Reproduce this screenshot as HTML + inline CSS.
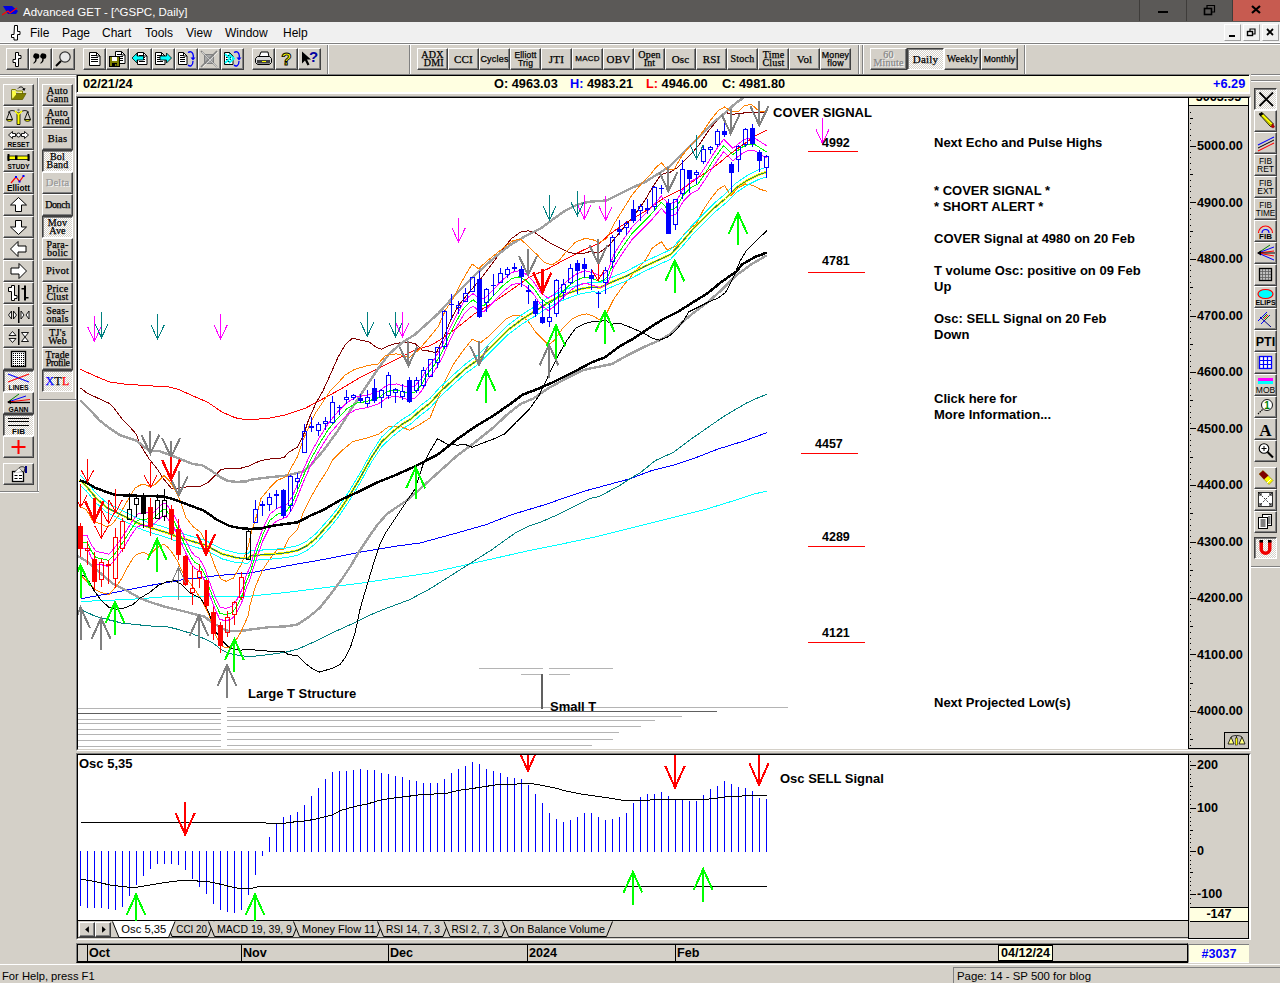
<!DOCTYPE html><html><head><meta charset="utf-8"><title>Advanced GET</title><style>
*{box-sizing:border-box;margin:0;padding:0}
html,body{width:1280px;height:983px;overflow:hidden;background:#d4d0c8;font-family:"Liberation Sans",sans-serif;}
.abs{position:absolute}
#title{position:absolute;left:0;top:0;width:1280px;height:22px;background:#5b5957;color:#fff;font-size:11.5px;line-height:22px;}
#title .t{position:absolute;left:23px;top:1px;letter-spacing:0px}
.wb{position:absolute;top:0;height:21px;width:46px;border-left:1px solid #3e3c3a;}
#menu{position:absolute;left:0;top:22px;width:1280px;height:21px;background:#f0f0f0;font-size:12px;line-height:22px;color:#000;border-bottom:1px solid #fff}
#menu span{position:absolute;top:0}
.mdib{position:absolute;top:24px;width:17px;height:17px;background:#f0f0f0;border:1px solid #fff;border-right-color:#a0a0a0;border-bottom-color:#a0a0a0}
.btn{position:absolute;background:#d4d0c8;border-top:1px solid #fff;border-left:1px solid #fff;border-right:1px solid #404040;border-bottom:1px solid #404040;box-shadow:inset -1px -1px 0 #808080;}
.btn.dn{border-top:1px solid #404040;border-left:1px solid #404040;border-right:1px solid #fff;border-bottom:1px solid #fff;box-shadow:inset 1px 1px 0 #808080;background:repeating-conic-gradient(#fff 0% 25%,#d4d0c8 0% 50%) 0 0/2px 2px}
.btn svg{position:absolute;left:0;top:0}
.tb{font-family:"Liberation Serif",serif;font-size:10px;line-height:8px;text-align:center;color:#000;letter-spacing:0.2px;-webkit-text-stroke:0.25px currentColor}
.tb div{position:absolute;left:0;right:0;text-align:center;white-space:nowrap}
.dis div{text-shadow:1px 1px 0 #fff}
.sepv{position:absolute;width:2px;border-left:1px solid #808080;border-right:1px solid #fff}
.seph{position:absolute;height:2px;border-top:1px solid #808080;border-bottom:1px solid #fff}
#info{position:absolute;left:76px;top:74px;width:1174px;height:20px;background:#ffffe1;border-top:1px solid #808080;border-left:1px solid #808080;border-bottom:2px solid #fff;border-right:1px solid #fff;box-shadow:inset 1px 1px 0 #000;font-weight:bold;font-size:12.75px;line-height:16px;color:#000}
#info span{position:absolute;top:1px;white-space:nowrap}
.b{font-weight:bold}
</style></head><body><div id="title"><svg class="abs" style="left:2px;top:4px" width="18" height="14" viewBox="0 0 18 14" ><path d="M1 2h9l6 5-2 3h-8z" fill="#0000e0"/><path d="M0 11l6-4 2 2 7-5" stroke="#f00" stroke-width="1.2" fill="none"/></svg><span class="t">Advanced GET - [^GSPC, Daily]</span><div class="wb" style="left:1139px"><svg class="abs" style="left:0px;top:0px" width="46" height="22" viewBox="0 0 46 22" ><rect x="18" y="11" width="10" height="2" fill="#000"/></svg></div><div class="wb" style="left:1186px"><svg class="abs" style="left:0px;top:0px" width="46" height="22" viewBox="0 0 46 22" ><rect x="17.5" y="8.5" width="7" height="6" fill="none" stroke="#000" stroke-width="1.6"/><path d="M20 8v-2.500h7.500v6.500h-2.500" fill="none" stroke="#000" stroke-width="1.2"/></svg></div><div class="wb" style="left:1232px;width:48px;background:#c75b50"><svg class="abs" style="left:0px;top:0px" width="48" height="22" viewBox="0 0 48 22" ><path d="M19 6l8 7m0-7l-8 7" stroke="#000" stroke-width="2.2"/></svg></div></div>
<div id="menu"><svg class="abs" style="left:8px;top:2px" width="14" height="18" viewBox="0 0 14 18" ><path d="M6.500 1.500h3v6h2.500v3h-2.500v5.500h-3.500v-2.500h-2.500v-3h2.500z" fill="#fff" stroke="#000" stroke-width="1"/></svg><span style="left:30px">File</span><span style="left:62px">Page</span><span style="left:102px">Chart</span><span style="left:145px">Tools</span><span style="left:186px">View</span><span style="left:225px">Window</span><span style="left:283px">Help</span></div>
<div class="mdib" style="left:1224px"><svg class="abs" style="left:0px;top:0px" width="15" height="15" viewBox="0 0 15 15" ><rect x="4" y="10" width="6" height="2" fill="#000"/></svg></div>
<div class="mdib" style="left:1243px"><svg class="abs" style="left:0px;top:0px" width="15" height="15" viewBox="0 0 15 15" ><rect x="3.500" y="6.500" width="5" height="4" fill="none" stroke="#000" stroke-width="1.4"/><path d="M6 6v-2h5v5h-2" fill="none" stroke="#000" stroke-width="1.2"/></svg></div>
<div class="mdib" style="left:1262px"><svg class="abs" style="left:0px;top:0px" width="15" height="15" viewBox="0 0 15 15" ><path d="M4 4l6 6m0-6l-6 6" stroke="#000" stroke-width="1.8"/></svg></div>
<div class="seph" style="left:0;top:43px;width:1280px"></div>
<div class="btn " style="left:6px;top:48px;width:23px;height:22px"><svg class="abs" style="left:0px;top:0px" width="21" height="20" viewBox="0 0 21 20" ><path d="M8.500 3.500h3v3h2.500v3h-2.500v8h-3v-4h-2.500v-3h2.500z" fill="#fff" stroke="#000"/></svg></div>
<div class="btn " style="left:29px;top:48px;width:23px;height:22px"><svg class="abs" style="left:0px;top:0px" width="21" height="20" viewBox="0 0 21 20" ><path d="M6.800 4.500a2.600 2.600 0 1 1 -0.100 5.200c0.300 2.300 -1 4 -3 5l-0.400-0.800c1.500-1 2.300-2.600 1.800-4.300a2.600 2.600 0 0 1 1.700-5.100z" fill="#000"/><path d="M13.800 4.500a2.600 2.600 0 1 1 -0.100 5.200c0.300 2.300 -1 4 -3 5l-0.400-0.800c1.500-1 2.300-2.600 1.800-4.300a2.600 2.600 0 0 1 1.700-5.100z" fill="#000"/></svg></div>
<div class="btn " style="left:52px;top:48px;width:23px;height:22px"><svg class="abs" style="left:0px;top:0px" width="21" height="20" viewBox="0 0 21 20" ><circle cx="12" cy="8" r="5.200" fill="#e8e8e8" stroke="#303030" stroke-width="1.200"/><path d="M8 12l-5 5" stroke="#000" stroke-width="2"/></svg></div>
<div class="btn " style="left:83px;top:48px;width:23px;height:22px"><svg class="abs" style="left:0px;top:0px" width="21" height="20" viewBox="0 0 21 20" ><path d="M5.5 3.5h7l3.500 3.500v9.5h-10.5z" fill="#fff" stroke="#000"/><path d="M12.5 3.5v3.500h3.500" fill="none" stroke="#000"/><rect x="7" y="6" width="6" height="1" fill="#000"/><rect x="7" y="8" width="7" height="1" fill="#000"/><rect x="7" y="10" width="7" height="1" fill="#000"/><rect x="7" y="12" width="7" height="1" fill="#000"/></svg></div>
<div class="btn " style="left:106px;top:48px;width:23px;height:22px"><svg class="abs" style="left:0px;top:0px" width="21" height="20" viewBox="0 0 21 20" ><path d="M8.5 2.5h6l3.500 3.500v8.5h-9.5z" fill="#fff" stroke="#000"/><path d="M14.5 2.5v3.500h3.500" fill="none" stroke="#000"/><rect x="10" y="5" width="5" height="1" fill="#000"/><rect x="10" y="7" width="6" height="1" fill="#000"/><rect x="10" y="9" width="6" height="1" fill="#000"/><rect x="10" y="11" width="6" height="1" fill="#000"/><rect x="2.500" y="7.500" width="10" height="10" fill="#808000" stroke="#000"/><rect x="5" y="8" width="5" height="4" fill="#fff"/><rect x="5" y="14" width="5" height="3.500" fill="#000"/><rect x="8" y="15" width="1.500" height="2" fill="#808000"/></svg></div>
<div class="btn " style="left:129px;top:48px;width:23px;height:22px"><svg class="abs" style="left:0px;top:0px" width="21" height="20" viewBox="0 0 21 20" ><path d="M7.5 3.5h6l3.500 3.500v8.5h-9.5z" fill="#fff" stroke="#000"/><path d="M13.5 3.5v3.500h3.500" fill="none" stroke="#000"/><rect x="9" y="6" width="5" height="1" fill="#000"/><rect x="9" y="8" width="6" height="1" fill="#000"/><rect x="9" y="10" width="6" height="1" fill="#000"/><rect x="9" y="12" width="6" height="1" fill="#000"/><path d="M2 9l5-5v3h6.500v4h-6.500v3z" fill="#00ffff" stroke="#000" stroke-width=".8"/></svg></div>
<div class="btn " style="left:152px;top:48px;width:23px;height:22px"><svg class="abs" style="left:0px;top:0px" width="21" height="20" viewBox="0 0 21 20" ><path d="M2.5 3.5h6l3.500 3.500v8.5h-9.5z" fill="#fff" stroke="#000"/><path d="M8.5 3.5v3.500h3.500" fill="none" stroke="#000"/><rect x="4" y="6" width="5" height="1" fill="#000"/><rect x="4" y="8" width="6" height="1" fill="#000"/><rect x="4" y="10" width="6" height="1" fill="#000"/><rect x="4" y="12" width="6" height="1" fill="#000"/><path d="M18.500 9l-5-5v3h-6.500v4h6.500v3z" fill="#00ffff" stroke="#000" stroke-width=".8"/></svg></div>
<div class="btn " style="left:175px;top:48px;width:23px;height:22px"><svg class="abs" style="left:0px;top:0px" width="21" height="20" viewBox="0 0 21 20" ><path d="M2.5 3.5h5l3.500 3.500v8.5h-8.5z" fill="#fff" stroke="#000"/><path d="M7.5 3.5v3.500h3.500" fill="none" stroke="#000"/><rect x="4" y="6" width="4" height="1" fill="#000"/><rect x="4" y="8" width="5" height="1" fill="#000"/><rect x="4" y="10" width="5" height="1" fill="#000"/><rect x="4" y="12" width="5" height="1" fill="#000"/><path d="M12 3.500c5-3 6 4 5 6M17 12c0 5-3 6-5 4" fill="none" stroke="#00f" stroke-width="1.300"/><path d="M14.500 8.500h5l-2.500 3z" fill="#00f"/></svg></div>
<div class="btn " style="left:198px;top:48px;width:23px;height:22px"><svg class="abs" style="left:0px;top:0px" width="21" height="20" viewBox="0 0 21 20" ><rect x="5.500" y="5.500" width="9" height="9" fill="#a8a8a8" stroke="#808080"/><path d="M2 2l16 16M18 2l-16 16" stroke="#808080" stroke-width="1.500"/><path d="M3 3l15 15M19 3l-15 15" stroke="#fff" stroke-width=".6"/></svg></div>
<div class="btn " style="left:221px;top:48px;width:23px;height:22px"><svg class="abs" style="left:0px;top:0px" width="21" height="20" viewBox="0 0 21 20" ><path d="M2.5 3.5h5l3.500 3.500v8.5h-8.5z" fill="#fff" stroke="#000"/><path d="M7.5 3.5v3.500h3.500" fill="none" stroke="#000"/><rect x="4" y="6" width="4" height="1" fill="#000"/><rect x="4" y="8" width="5" height="1" fill="#000"/><rect x="4" y="10" width="5" height="1" fill="#000"/><rect x="4" y="12" width="5" height="1" fill="#000"/><path d="M3 5l5 4.500-5 4.500M7 5l5 4.500-5 4.500" fill="none" stroke="#00ffff" stroke-width="1.800"/><path d="M12 3.500c5-3 6 4 5 6M17 12c0 5-3 6-5 4" fill="none" stroke="#00f" stroke-width="1.300"/><path d="M14.500 8.500h5l-2.500 3z" fill="#00f"/></svg></div>
<div class="btn " style="left:252px;top:48px;width:23px;height:22px"><svg class="abs" style="left:0px;top:0px" width="21" height="20" viewBox="0 0 21 20" ><path d="M6 8l2-5h7l1 5" fill="#fff" stroke="#000"/><path d="M2.500 9.500l2-2h12l2 2v4l-2 2h-12l-2-2z" fill="#d8d8d8" stroke="#000"/><rect x="4" y="11" width="13" height="3.500" fill="#404040"/><rect x="9" y="12" width="4" height="1" fill="#ffff00"/></svg></div>
<div class="btn " style="left:275px;top:48px;width:23px;height:22px"><svg class="abs" style="left:0px;top:0px" width="21" height="20" viewBox="0 0 21 20" ><text x="10.500" y="16" text-anchor="middle" font-size="17" font-weight="bold" font-family="Liberation Sans, sans-serif" fill="#ffff00" stroke="#000" stroke-width=".9">?</text></svg></div>
<div class="btn " style="left:298px;top:48px;width:23px;height:22px"><svg class="abs" style="left:0px;top:0px" width="21" height="20" viewBox="0 0 21 20" ><path d="M3 2.500v12l3-3 2.500 5 2-1-2.500-5h4z" fill="#000"/><text x="14.500" y="13" text-anchor="middle" font-size="15" font-weight="bold" font-family="Liberation Sans, sans-serif" fill="#0000a0">?</text></svg></div>
<div class="sepv" style="left:327px;top:45px;height:29px"></div>
<div class="sepv" style="left:409px;top:45px;height:29px"></div>
<div class="btn tb " style="left:417px;top:48px;width:31px;height:22px"><div style="top:2px;font-size:10px;color:#000;">ADX</div><div style="top:10px;font-size:10px;color:#000;">&nbsp;DMI</div></div>
<div class="btn tb " style="left:448px;top:48px;width:31px;height:22px"><div style="top:6px;font-size:11px;color:#000;">CCI</div></div>
<div class="btn tb " style="left:479px;top:48px;width:31px;height:22px"><div style="top:6px;font-size:9px;color:#000;font-family:'Liberation Sans',sans-serif;">Cycles</div></div>
<div class="btn tb " style="left:510px;top:48px;width:31px;height:22px"><div style="top:2px;font-size:8.5px;color:#000;font-family:'Liberation Sans',sans-serif;">Elliott</div><div style="top:10px;font-size:8.5px;color:#000;font-family:'Liberation Sans',sans-serif;">Trig</div></div>
<div class="btn tb " style="left:541px;top:48px;width:31px;height:22px"><div style="top:6px;font-size:11px;color:#000;">JTI</div></div>
<div class="btn tb " style="left:572px;top:48px;width:31px;height:22px"><div style="top:6px;font-size:8px;color:#000;font-family:'Liberation Sans',sans-serif;">MACD</div></div>
<div class="btn tb " style="left:603px;top:48px;width:31px;height:22px"><div style="top:6px;font-size:11px;color:#000;">OBV</div></div>
<div class="btn tb " style="left:634px;top:48px;width:31px;height:22px"><div style="top:2px;font-size:10px;color:#000;">Open</div><div style="top:10px;font-size:10px;color:#000;">Int</div></div>
<div class="btn tb " style="left:665px;top:48px;width:31px;height:22px"><div style="top:6px;font-size:11px;color:#000;">Osc</div></div>
<div class="btn tb " style="left:696px;top:48px;width:31px;height:22px"><div style="top:6px;font-size:11px;color:#000;">RSI</div></div>
<div class="btn tb " style="left:727px;top:48px;width:31px;height:22px"><div style="top:6px;font-size:10px;color:#000;">Stoch</div></div>
<div class="btn tb " style="left:758px;top:48px;width:31px;height:22px"><div style="top:2px;font-size:10px;color:#000;">Time</div><div style="top:10px;font-size:10px;color:#000;">Clust</div></div>
<div class="btn tb " style="left:789px;top:48px;width:31px;height:22px"><div style="top:6px;font-size:11px;color:#000;">Vol</div></div>
<div class="btn tb " style="left:820px;top:48px;width:31px;height:22px"><div style="top:2px;font-size:8.8px;color:#000;font-family:'Liberation Sans',sans-serif;">Money</div><div style="top:10px;font-size:8.8px;color:#000;font-family:'Liberation Sans',sans-serif;">flow</div></div>
<div class="sepv" style="left:858px;top:45px;height:29px"></div>
<div class="sepv" style="left:862px;top:45px;height:29px"></div>
<div class="btn tb dis" style="left:870px;top:48px;width:37px;height:22px"><div style="top:2px;font-size:10px;color:#888;">60</div><div style="top:10px;font-size:10px;color:#888;">Minute</div></div>
<div class="btn tb dn" style="left:907px;top:48px;width:37px;height:22px"><div style="top:6px;font-size:11px;color:#000;">Daily</div></div>
<div class="btn tb " style="left:944px;top:48px;width:37px;height:22px"><div style="top:6px;font-size:10px;color:#000;">Weekly</div></div>
<div class="btn tb " style="left:981px;top:48px;width:37px;height:22px"><div style="top:6px;font-size:8.6px;color:#000;font-family:'Liberation Sans',sans-serif;">Monthly</div></div>
<div class="sepv" style="left:1024px;top:45px;height:29px"></div>
<div id="info"><span style="left:6px">02/21/24</span><span style="left:417px">O: 4963.03</span><span style="left:493px"><span style="position:static;color:#00f">H:</span> 4983.21</span><span style="left:569px"><span style="position:static;color:#f00">L:</span> 4946.00</span><span style="left:645px">C: 4981.80</span><span style="left:1136px;color:#00f">+6.29</span></div>
<div class="seph" style="left:0;top:74px;width:76px"></div><div class="abs" style="left:0;top:77px;width:76px;height:1px;background:#fff"></div>
<div class="sepv" style="left:37px;top:78px;height:414px"></div>
<div class="abs" style="left:75px;top:78px;height:322px;width:1px;background:#fff"></div>
<div class="btn " style="left:3px;top:84px;width:31px;height:22px"><svg class="abs" style="left:0px;top:0px" width="29" height="20" viewBox="0 0 29 20" ><path d="M7.500 4.500h4l1 1.500h6v3" fill="#ffff80" stroke="#808000"/><path d="M7.500 5v9.500h11l3.500-6h-10.500l-3.500 6" fill="#808000" stroke="#606000" stroke-width=".8"/><path d="M8 5.500l4 1 0 3-3.500 4.500z" fill="#ffff40"/><path d="M14 3.500c2-2.500 5.500-2 6 1.500" fill="none" stroke="#000"/><path d="M18 4l2.300 2 1.200-3z" fill="#000"/></svg></div>
<div class="btn " style="left:3px;top:106px;width:31px;height:22px"><svg class="abs" style="left:0px;top:0px" width="29" height="20" viewBox="0 0 29 20" ><path d="M4 5.500c3-3 6-2 8-0.500l2.500 1 2.500-1c2-1.500 5-2.500 8 .5" fill="none" stroke="#000"/><path d="M5.500 5l-3 7.500h6zM23.500 5l-3 7.500h6z" fill="#d4d0c8" stroke="#000" stroke-width=".9"/><path d="M2.500 12.500a3 1.800 0 0 0 6 0zM20.500 12.500a3 1.800 0 0 0 6 0z" fill="#ffff00" stroke="#000" stroke-width=".8"/><path d="M13 6.500h3v11h-3z" fill="#ffff00" stroke="#000" stroke-width=".8"/><path d="M11 4l3.500 3.500 3.500-3.500" fill="none" stroke="#ffff00" stroke-width="1.500"/><circle cx="14.500" cy="3" r="1.200" fill="#808080"/></svg></div>
<div class="btn " style="left:3px;top:128px;width:31px;height:22px"><svg class="abs" style="left:0px;top:0px" width="29" height="20" viewBox="0 0 29 20" ><path d="M4.500 6l4-3.500v2h3v3h-3v2zM24.500 6l-4-3.500v2h-3v3h3v2z" fill="#fff" stroke="#000" stroke-width=".9"/><circle cx="14.500" cy="6" r="2" fill="#fff" stroke="#000" stroke-width=".9"/><text x="14.500" y="17.500" text-anchor="middle" font-size="8" font-weight="bold" font-family="Liberation Sans, sans-serif" textLength="22" lengthAdjust="spacingAndGlyphs">RESET</text></svg></div>
<div class="btn " style="left:3px;top:150px;width:31px;height:22px"><svg class="abs" style="left:0px;top:0px" width="29" height="20" viewBox="0 0 29 20" ><rect x="4" y="5" width="21" height="3.500" fill="#ffff00" stroke="#000" stroke-width=".8"/><rect x="3.500" y="3" width="2" height="7" fill="#000"/><rect x="23.500" y="3" width="2" height="7" fill="#000"/><rect x="11" y="4.500" width="2.500" height="4.500" fill="#000"/><text x="14.500" y="18" text-anchor="middle" font-size="8" font-weight="bold" font-family="Liberation Sans, sans-serif" textLength="22" lengthAdjust="spacingAndGlyphs">STUDY</text></svg></div>
<div class="btn " style="left:3px;top:172px;width:31px;height:22px"><svg class="abs" style="left:0px;top:0px" width="29" height="20" viewBox="0 0 29 20" ><path d="M7 10l5-6 3.500 4.500 4-5.500" fill="none" stroke="#f00" stroke-width="1.200"/><rect x="11" y="3" width="2" height="2" fill="#00f"/><rect x="14.500" y="7.500" width="2" height="2" fill="#00f"/><rect x="18.500" y="2" width="2" height="2" fill="#00f"/><text x="14.500" y="18" text-anchor="middle" font-size="9" font-weight="bold" font-family="Liberation Sans, sans-serif" textLength="23" lengthAdjust="spacingAndGlyphs">Elliott</text></svg></div>
<div class="btn " style="left:3px;top:194px;width:31px;height:22px"><svg class="abs" style="left:0px;top:0px" width="29" height="20" viewBox="0 0 29 20" ><path d="M14.500 2.500l8 7.500h-5v6.500h-6v-6.500h-5z" fill="#fff" stroke="#000"/></svg></div>
<div class="btn " style="left:3px;top:216px;width:31px;height:22px"><svg class="abs" style="left:0px;top:0px" width="29" height="20" viewBox="0 0 29 20" ><path d="M14.500 17.500l8-7.500h-5v-6.500h-6v6.500h-5z" fill="#fff" stroke="#000"/></svg></div>
<div class="btn " style="left:3px;top:238px;width:31px;height:22px"><svg class="abs" style="left:0px;top:0px" width="29" height="20" viewBox="0 0 29 20" ><path d="M6.500 10l7.500-7.500v4.500h8v6h-8v4.500z" fill="#fff" stroke="#000"/></svg></div>
<div class="btn " style="left:3px;top:260px;width:31px;height:22px"><svg class="abs" style="left:0px;top:0px" width="29" height="20" viewBox="0 0 29 20" ><path d="M22.500 10l-7.500-7.500v4.500h-8v6h8v4.500z" fill="#fff" stroke="#000"/></svg></div>
<div class="btn " style="left:3px;top:282px;width:31px;height:22px"><svg class="abs" style="left:0px;top:0px" width="29" height="20" viewBox="0 0 29 20" ><path d="M4.500 4.500h3v-2h3v10h2.500v3h-2.500v2h-3v-9h-3z" fill="#fff" stroke="#000"/><rect x="14" y="2" width="1.500" height="16" fill="#000"/><rect x="20" y="2.500" width="2" height="15" fill="#000"/><rect x="17.500" y="5" width="2.500" height="1.500" fill="#000"/><rect x="22" y="14" width="2.500" height="1.500" fill="#000"/></svg></div>
<div class="btn " style="left:3px;top:304px;width:31px;height:22px"><svg class="abs" style="left:0px;top:0px" width="29" height="20" viewBox="0 0 29 20" ><rect x="14" y="2" width="1.500" height="16" fill="#000"/><path d="M4.500 10l3-4v8zM12.500 10l-3-4v8zM17 6v8l3-4zM25 6v8l-3-4z" fill="#fff" stroke="#000" stroke-width=".9"/></svg></div>
<div class="btn " style="left:3px;top:326px;width:31px;height:22px"><svg class="abs" style="left:0px;top:0px" width="29" height="20" viewBox="0 0 29 20" ><rect x="14" y="2" width="1.500" height="16" fill="#000"/><path d="M8.500 4.500l-3.500 4h7zM8.500 15.500l-3.500-4h7zM17.500 5.500h7l-3.500 4.500zM17.500 14.500h7l-3.500-4.500z" fill="#fff" stroke="#000" stroke-width=".9"/></svg></div>
<div class="btn " style="left:3px;top:348px;width:31px;height:22px"><svg class="abs" style="left:0px;top:0px" width="29" height="20" viewBox="0 0 29 20" ><rect x="7.500" y="2.500" width="14" height="15" fill="#fff" stroke="#000" stroke-width="1.400"/><rect x="9" y="4" width="1" height="1" fill="#000"/><rect x="9" y="6" width="1" height="1" fill="#000"/><rect x="9" y="8" width="1" height="1" fill="#000"/><rect x="9" y="10" width="1" height="1" fill="#000"/><rect x="9" y="12" width="1" height="1" fill="#000"/><rect x="9" y="14" width="1" height="1" fill="#000"/><rect x="9" y="16" width="1" height="1" fill="#000"/><rect x="11" y="4" width="1" height="1" fill="#000"/><rect x="11" y="6" width="1" height="1" fill="#000"/><rect x="11" y="8" width="1" height="1" fill="#000"/><rect x="11" y="10" width="1" height="1" fill="#000"/><rect x="11" y="12" width="1" height="1" fill="#000"/><rect x="11" y="14" width="1" height="1" fill="#000"/><rect x="11" y="16" width="1" height="1" fill="#000"/><rect x="13" y="4" width="1" height="1" fill="#000"/><rect x="13" y="6" width="1" height="1" fill="#000"/><rect x="13" y="8" width="1" height="1" fill="#000"/><rect x="13" y="10" width="1" height="1" fill="#000"/><rect x="13" y="12" width="1" height="1" fill="#000"/><rect x="13" y="14" width="1" height="1" fill="#000"/><rect x="13" y="16" width="1" height="1" fill="#000"/><rect x="15" y="4" width="1" height="1" fill="#000"/><rect x="15" y="6" width="1" height="1" fill="#000"/><rect x="15" y="8" width="1" height="1" fill="#000"/><rect x="15" y="10" width="1" height="1" fill="#000"/><rect x="15" y="12" width="1" height="1" fill="#000"/><rect x="15" y="14" width="1" height="1" fill="#000"/><rect x="15" y="16" width="1" height="1" fill="#000"/><rect x="17" y="4" width="1" height="1" fill="#000"/><rect x="17" y="6" width="1" height="1" fill="#000"/><rect x="17" y="8" width="1" height="1" fill="#000"/><rect x="17" y="10" width="1" height="1" fill="#000"/><rect x="17" y="12" width="1" height="1" fill="#000"/><rect x="17" y="14" width="1" height="1" fill="#000"/><rect x="17" y="16" width="1" height="1" fill="#000"/><rect x="19" y="4" width="1" height="1" fill="#000"/><rect x="19" y="6" width="1" height="1" fill="#000"/><rect x="19" y="8" width="1" height="1" fill="#000"/><rect x="19" y="10" width="1" height="1" fill="#000"/><rect x="19" y="12" width="1" height="1" fill="#000"/><rect x="19" y="14" width="1" height="1" fill="#000"/><rect x="19" y="16" width="1" height="1" fill="#000"/></svg></div>
<div class="btn dn" style="left:3px;top:370px;width:31px;height:22px"><svg class="abs" style="left:0px;top:0px" width="29" height="20" viewBox="0 0 29 20" ><path d="M4 3l21 8" stroke="#00f" stroke-width="1.100"/><path d="M4 11l21-8" stroke="#f00" stroke-width="1.100"/><text x="14.500" y="18.500" text-anchor="middle" font-size="8" font-weight="bold" font-family="Liberation Sans, sans-serif" textLength="20" lengthAdjust="spacingAndGlyphs">LINES</text></svg></div>
<div class="btn " style="left:3px;top:392px;width:31px;height:22px"><svg class="abs" style="left:0px;top:0px" width="29" height="20" viewBox="0 0 29 20" ><path d="M4 9l11-8" stroke="#008000"/><path d="M4 9l18-6" stroke="#00f"/><path d="M4 9l22-2.500" stroke="#f00"/><path d="M4 9.500h22" stroke="#000" stroke-width="1.300"/><path d="M3 9l4-2v4z" fill="#000"/><text x="14.500" y="18.500" text-anchor="middle" font-size="8" font-weight="bold" font-family="Liberation Sans, sans-serif" textLength="20" lengthAdjust="spacingAndGlyphs">GANN</text></svg></div>
<div class="btn dn" style="left:3px;top:414px;width:31px;height:22px"><svg class="abs" style="left:0px;top:0px" width="29" height="20" viewBox="0 0 29 20" ><path d="M4 3.500h21M4 6.500h21M4 10.500h21" stroke="#000" stroke-width="1.100"/><text x="14.500" y="19" text-anchor="middle" font-size="8" font-weight="bold" font-family="Liberation Sans, sans-serif">FIB</text></svg></div>
<div class="btn " style="left:3px;top:436px;width:31px;height:22px"><svg class="abs" style="left:0px;top:0px" width="29" height="20" viewBox="0 0 29 20" ><path d="M14.500 3v14M7.500 10h14" stroke="#f00" stroke-width="2"/></svg></div>
<div class="btn " style="left:3px;top:463px;width:31px;height:22px"><svg class="abs" style="left:0px;top:0px" width="29" height="20" viewBox="0 0 29 20" ><rect x="8.500" y="7.500" width="11" height="10" fill="#fff" stroke="#000" stroke-width="1.300"/><path d="M10.500 11.500h3M15 11.500h3M10.500 14.500h3M15 14.500h3" stroke="#000" stroke-width="1.200"/><path d="M10 8.500l5-4.500 3.500 3.500" fill="#fff" stroke="#000" stroke-width=".9" stroke-dasharray="1 .6"/><path d="M15 4c2-2 5-1.500 6 0l-1 4" fill="#d4d0c8" stroke="#000" stroke-width=".8"/><rect x="21" y="2" width="2" height="7" fill="#000080"/></svg></div>
<div class="btn tb " style="left:42px;top:84px;width:31px;height:22px"><div style="top:2px;font-size:10px;color:#000;">Auto</div><div style="top:10px;font-size:10px;color:#000;">Gann</div></div>
<div class="btn tb " style="left:42px;top:106px;width:31px;height:22px"><div style="top:2px;font-size:10px;color:#000;">Auto</div><div style="top:10px;font-size:10px;color:#000;">Trend</div></div>
<div class="btn tb " style="left:42px;top:128px;width:31px;height:22px"><div style="top:6px;font-size:10.5px;color:#000;">Bias</div></div>
<div class="btn tb dn" style="left:42px;top:150px;width:31px;height:22px"><div style="top:2px;font-size:10px;color:#000;">Bol</div><div style="top:10px;font-size:10px;color:#000;">Band</div></div>
<div class="btn tb dis" style="left:42px;top:172px;width:31px;height:22px"><div style="top:6px;font-size:10.5px;color:#999;">Delta</div></div>
<div class="btn tb " style="left:42px;top:194px;width:31px;height:22px"><div style="top:6px;font-size:10.5px;color:#000;"><span style="letter-spacing:-0.4px;font-size:10px">Donch</span></div></div>
<div class="btn tb dn" style="left:42px;top:216px;width:31px;height:22px"><div style="top:2px;font-size:10px;color:#000;">Mov</div><div style="top:10px;font-size:10px;color:#000;">Ave</div></div>
<div class="btn tb " style="left:42px;top:238px;width:31px;height:22px"><div style="top:2px;font-size:10px;color:#000;">Para-</div><div style="top:10px;font-size:10px;color:#000;">bolic</div></div>
<div class="btn tb " style="left:42px;top:260px;width:31px;height:22px"><div style="top:6px;font-size:10.5px;color:#000;">Pivot</div></div>
<div class="btn tb " style="left:42px;top:282px;width:31px;height:22px"><div style="top:2px;font-size:10px;color:#000;">Price</div><div style="top:10px;font-size:10px;color:#000;">Clust</div></div>
<div class="btn tb " style="left:42px;top:304px;width:31px;height:22px"><div style="top:2px;font-size:10px;color:#000;">Seas-</div><div style="top:10px;font-size:10px;color:#000;">onals</div></div>
<div class="btn tb " style="left:42px;top:326px;width:31px;height:22px"><div style="top:2px;font-size:10px;color:#000;">TJ's</div><div style="top:10px;font-size:10px;color:#000;">Web</div></div>
<div class="btn tb " style="left:42px;top:348px;width:31px;height:22px"><div style="top:2px;font-size:10px;color:#000;">Trade</div><div style="top:10px;font-size:10px;color:#000;"><span style="letter-spacing:-0.5px">Profile</span></div></div>
<div class="btn tb dn" style="left:42px;top:370px;width:31px;height:22px"><div style="top:6px;font-size:12px;letter-spacing:0.3px"><span style="color:#00f">X</span>T<span style="color:#f00">L</span></div></div>
<div class="seph" style="left:39px;top:399px;width:37px"></div>
<div class="seph" style="left:0;top:491px;width:39px"></div>
<div class="abs" style="left:76px;top:96px;width:1175px;height:655px;border:1px solid;border-color:#808080 #fff #fff #808080"><div style="width:100%;height:100%;border:1px solid;border-color:#000 #fff #d4d0c8 #000;background:#d4d0c8"></div></div><div class="abs" style="left:78px;top:98px;width:1110px;height:651px;background:#fff"></div><svg class="abs" style="left:0;top:0" width="1280" height="983" viewBox="0 0 1280 983" font-family="Liberation Sans, sans-serif"><defs><clipPath id="cc"><rect x="78" y="98" width="1110" height="651"/></clipPath></defs><g clip-path="url(#cc)" shape-rendering="crispEdges"><line x1="78" y1="708.5" x2="221" y2="708.5" stroke="#b4b4b4"/><line x1="78" y1="713.5" x2="221" y2="713.5" stroke="#606060"/><line x1="78" y1="719.5" x2="221" y2="719.5" stroke="#b4b4b4"/><line x1="78" y1="723.5" x2="221" y2="723.5" stroke="#b4b4b4"/><line x1="78" y1="729.5" x2="221" y2="729.5" stroke="#b4b4b4"/><line x1="78" y1="734.5" x2="221" y2="734.5" stroke="#b4b4b4"/><line x1="78" y1="740.5" x2="221" y2="740.5" stroke="#b4b4b4"/><line x1="78" y1="746.5" x2="221" y2="746.5" stroke="#b4b4b4"/><line x1="227" y1="707.5" x2="788" y2="707.5" stroke="#b4b4b4"/><line x1="227" y1="711.5" x2="717" y2="711.5" stroke="#606060"/><line x1="227" y1="716.5" x2="682" y2="716.5" stroke="#b4b4b4"/><line x1="227" y1="720.5" x2="655" y2="720.5" stroke="#b4b4b4"/><line x1="227" y1="726.5" x2="641" y2="726.5" stroke="#b4b4b4"/><line x1="227" y1="732.5" x2="619" y2="732.5" stroke="#b4b4b4"/><line x1="227" y1="739.5" x2="613" y2="739.5" stroke="#b4b4b4"/><line x1="227" y1="745.5" x2="592" y2="745.5" stroke="#b4b4b4"/><line x1="479" y1="668.5" x2="543" y2="668.5" stroke="#b4b4b4"/><line x1="549" y1="668.5" x2="613" y2="668.5" stroke="#b4b4b4"/><line x1="521" y1="674.5" x2="543" y2="674.5" stroke="#b4b4b4"/><line x1="549" y1="674.5" x2="570" y2="674.5" stroke="#b4b4b4"/><rect x="541" y="674" width="2" height="35" fill="#606060"/><polyline points="80.6,601.5 131,599.3 167.6,596.6 204,596.6 250,596.1 286.6,592.5 323.2,587.9 359.9,583.3 396.5,577.8 430,572.9 531.7,550 560,544.4 596.6,536.6 633.2,527.4 669.9,518.3 706.5,509.1 732.1,501.2 754.1,493.9 766.9,491.3" fill="none" stroke="#00ffff" stroke-width="1" /><polyline points="80.6,598.8 112.6,592.9 149.2,585.6 185.9,579.2 222.5,575.1 250,572.9 286.6,565.9 323.2,559.5 359.9,552.2 396.5,546.1 420,543 456.6,533 485.9,524.7 511.6,514.7 548.2,503.7 560,499.4 585.6,490.8 629.6,478.9 651.6,470.6 673.5,465.1 695.5,457.8 717.5,449.2 743.1,441.3 766.9,432.7" fill="none" stroke="#0000ff" stroke-width="1" /><polyline points="80.6,609.4 94.3,615.8 101.6,618 121.8,623.1 149.2,625.9 167.6,626.8 178.5,629.5 193.2,634.1 204.2,638.7 213.3,643.2 220.7,649.1 228,653.3 240.8,655.7 250,656.6 268.3,654.7 286.6,652 297.6,649.2 314.1,641.9 332.4,632.8 350.7,624.5 369,615.4 387.3,608 409.3,599.8 430,588.8 491.4,550 502.4,542.1 515.2,533 529.9,525.7 540.9,522 560,513.7 591.1,498.1 598.5,496.8 618.6,486.2 629.6,478.9 640.6,472.5 655.2,460.6 673.5,452.3 691.8,438.6 710.2,425.8 724.8,415.7 746.8,402.9 757.8,397.9 766.9,394.3" fill="none" stroke="#008080" stroke-width="1" /><polyline points="80.6,369.3 94.3,375.7 109,381.8 123.6,384 149.2,385.8 167.6,386.7 178.5,389.4 195,396.8 207.8,402.3 222.5,412.3 235.3,417.8 242.6,419.1 250,419.7 268.3,418.3 286.6,414.6 305,408.4 323.2,398.7 341.6,388.6 359.9,377.6 378.2,368.5 396.5,359.3 414.8,350.1 430,345.6 438.3,341 456.6,328.2 474.9,313.5 484.1,308 493.2,302.5 511.6,289.7 529.9,276.9 548.2,268.7 566.5,258.6 584.8,249.4 600,243 608.3,235.2 626.6,222.3 644.9,211.4 663.2,198.5 681.6,189.4 699.9,176.6 718.2,163.8 729.2,154.6 742,145.4 754.8,136.3 766.7,129.9" fill="none" stroke="#ff0000" stroke-width="1" /><polyline points="80.6,388 87,393.1 98,398.2 109,403.2 114.5,408.7 121.8,418.7 129,426 136.4,434.3 140,444.4 149.2,459 156.6,468.2 163.9,479.2 171.2,488 180.4,488 189.5,486.5 200.5,486.1 207.8,482.8 215.2,475.5 220.7,469.6 228,468.2 240.8,468.2 248,466.3 250,465.5 261,460.4 273.8,458.5 283.9,457.8 288.5,452.3 297.6,447.2 303.1,436.2 308.6,419.7 315.9,403.2 323.2,390.4 330.6,373.9 337.9,357.5 345.2,344.6 352.5,338.2 359.9,340 369,341.9 376.4,347.4 381.8,349.2 389.2,345.6 396.5,343.2 405.7,342.5 414.8,343.2 422.1,350.1 429.2,351.1 436.5,352.9 438.3,348.3 443.8,337.3 451.1,319 459.4,304.4 471.3,289.7 482.3,276.9 493.2,262.3 502.4,249.4 511.6,238.5 520.7,232 528,230.8 535.4,233 544.5,239.4 551.8,243.9 561,248.5 568.3,252.2 575.6,254 584.8,253.1 590,251.6 599.2,252.6 608.3,246.2 617.5,235.2 626.6,224.2 635.8,213.2 644.9,200.4 652.3,187.6 659.6,176.6 663.2,173.8 670.6,172 677.9,167.4 685.2,160.1 692.5,152.8 699.9,143.6 707.2,132.6 714.5,123.5 721.8,114.3 725.5,112.5 732.8,114.3 740.2,113.4 751.1,112.1 758.5,112.8 766.7,112.5" fill="none" stroke="#800000" stroke-width="1" /><polyline points="80.6,400.4 88.8,408.7 99.8,420.6 109,427.9 120,435.2 136.4,440.7 149.2,450.8 158.4,450.8 171.2,455.4 182.2,459.9 193.2,464.1 202.4,465.4 211.5,470.9 220.7,477.3 228,481 237.1,481.9 246.3,481.4 250,479.8 268.3,477.4 286.6,475.6 303.1,471.4 310.4,465.5 323.2,450.9 337.9,430.7 352.5,406.9 367.2,384.9 378.2,368.5 389.2,353.8 402,342.8 414.8,334.6 420,330 438.3,313.5 456.6,293.4 474.9,275.1 493.2,258.6 511.6,243.9 526.2,235.7 540.9,228.4 551.8,220.1 564.7,211 577.5,204.6 588.5,201.8 600,200.9 606.5,200.4 617.5,194.9 630.3,188.5 644.9,182.1 659.6,172.9 670.6,165.6 681.6,154.6 692.5,143.6 703.5,132.6 714.5,121.6 725.5,112.5 736.5,102.4 743.8,97.8" fill="none" stroke="#a0a0a0" stroke-width="2.4" stroke-linejoin="round"/><polyline points="77.8,556 87,561.6 99.8,572.5 112.6,583.5 127.3,590.9 140,598.2 149.2,601.8 163.9,606.4 178.5,610 193.2,613.7 204.2,616.5 211.5,622 220.7,627.5 228,631 240.8,631.1 250,629.6 268.3,627.3 286.6,626.3 297.6,624.5 308.6,617.2 319.6,608 330.6,594.3 341.6,579.7 350.7,565.9 359.9,550.4 369,536.6 378.2,523.8 387.3,513.7 396.5,507.3 407.5,500 411.1,496.6 420,489 438.3,472.5 456.6,456.1 474.9,442.3 493.2,427.7 507.9,413.9 520.7,403.9 533.5,398.4 548.2,388.3 566.5,378.2 581.1,370.9 590,368.5 612,364 626.6,355.7 644.9,346.6 659.6,340.2 670.6,333.8 681.6,322.8 692.5,313.6 707.2,302.6 721.8,289.8 736.5,275.2 751.1,264.5 766.7,255.3" fill="none" stroke="#a0a0a0" stroke-width="2.4" stroke-linejoin="round"/><polyline points="79,506.4 86.2,509.5 93.3,521.7 100.4,523.7 106.5,526.8 111.6,524.8 118.7,515.6 124.8,505.4 129.9,496.3 135,488.1 141.1,484.6 147.2,485.1 150.3,487.1 155.3,484.1 160.4,479 164,475.5 169.4,481 175,490 180.4,501 185.9,517.6 193.2,526.8 200.5,532.3 207.8,546.9 215.2,567 220.7,579 226.2,581.3 233.5,578 240.8,565.2 248.1,546.9 251.8,530.4 256,517.6 261,498.5 270.1,487.5 277.5,480.2 286.6,476.5 290.3,469.2 297.6,456.4 303.1,439.9 310.4,423.4 315.9,412.4 323.2,401.4 330.6,390.4 337.9,383.1 345.2,374.9 354.4,369.4 367.2,365.7 378.2,363.9 385.5,355.6 396.5,353.8 409.3,357.5 418.5,350.1 431,335.5 438.3,326.4 445.6,309.9 453,298.9 460.3,284.2 467.6,271.4 472.2,264.1 478.6,268.7 487.8,260.4 496.9,253.1 506.1,245.8 513.4,240.3 520.7,239.4 528,245.8 537.2,254.9 544.5,262.3 551.8,265 559.2,260.4 566.5,251.3 575.6,242.1 584.8,238.5 592.1,239.4 599.2,242.5 606.5,238.8 613.8,224.2 623,209.5 632.1,194.9 641.3,183.9 650.4,174.7 655.9,167.4 661.4,162.8 666.9,169.2 674.2,169.2 681.6,156.4 688.9,147.3 696.2,140 703.5,130.8 710.9,119.8 718.2,110.6 724.6,107 731,111.6 738.3,111.6 743.8,106.1 751.1,104.2 758.5,110.6 766.7,112.5" fill="none" stroke="#ff8000" stroke-width="1" /><polyline points="80.6,575 94.3,589 101.6,592.7 109,594.5 115.4,587.2 120.8,580 126.9,568.5 133,558.3 137,554.3 143.1,552.2 149.2,555.3 156.4,548.2 163.5,544.1 167.6,547.1 172.6,553.2 177.7,561.4 180.8,568.5 186,578 193.2,587 200.5,598.2 209.7,616.5 215.2,634.8 222.5,646.7 228,647.8 235.3,641.4 240.8,632.3 248.1,615.8 250,605.3 255.5,586.1 262.8,569.6 270.1,558.6 277.5,549.4 283.9,549.1 288.5,538.5 297.6,529.3 303.1,512.8 312.3,494.8 319.6,482 326.9,471 332.4,460 341.6,450.9 352.5,441.7 367.2,438 378.2,434.4 389.2,426.1 400.2,426.1 409.3,430.3 418.5,425.2 430,417.9 445.6,380 453,364.8 462.1,352 472.2,339.2 480.4,342.8 489.6,335.5 498.7,326.4 506.1,319 513.4,315.4 520.7,315.4 528,320.9 535.4,331.8 542.7,339.2 548.2,344.7 553.7,341 562.8,328.2 572,319 579.3,315.4 586.6,313.9 594,316.3 599.2,320 606.5,313.6 613.8,299 623,286.1 632.1,275.2 644.9,260.8 652.3,248 661.4,241.6 666.9,249.8 676.1,246.2 683.4,235.2 690.7,227.8 696.2,224.2 703.5,209.5 710.9,198.5 718.2,189.4 724.6,185.7 731,195.8 738.3,187.6 745.7,183.9 753,185.4 760.3,189.4 766.7,191.2" fill="none" stroke="#ff8000" stroke-width="1" /><polyline points="80,475.2 86.2,481.3 96.3,493.5 106.5,502.7 116.7,507.8 126.9,512.8 137,517.9 147.2,522 157.4,525 167.6,528.1 177.7,532.2 187.9,535.2 198.1,538.3 205.2,540.3 222.5,549.4 237.1,553.1 248.1,553.6 250,551.1 261,550.1 275.6,549.2 286.6,547.9 297.6,545.6 306.8,541 315.9,533.7 323.2,525.4 330.6,517.2 337.9,508 343.4,499.8 348.9,491.8 359.9,473.5 370.9,453.4 381.8,436.9 392.8,426.8 402,419.5 411.1,414 420.3,405.8 430,398.4 440,387.2 453,375.2 465.8,363.7 478.6,354.5 493.2,339.9 507.9,325.2 522.5,314.2 537.2,305.1 548.2,297.7 559.2,292.2 570.2,287.7 581.1,284 592.1,282.2 600,282.7 612,277.2 626.6,271.2 644.9,261.5 670.6,249.6 681.6,237.7 692.5,224.9 703.5,213.9 714.5,202.9 725.5,193.7 736.5,182.8 747.5,175.4 758.5,169.9 766.7,167.2" fill="none" stroke="#00ffff" stroke-width="1" /><polyline points="80,484.8 86.2,490.9 96.3,503.1 106.5,512.3 116.7,517.4 126.9,522.4 137,527.5 147.2,531.6 157.4,534.6 167.6,537.7 177.7,541.8 187.9,544.8 198.1,547.9 205.2,549.9 222.5,559 237.1,562.7 248.1,563.2 250,560.7 261,559.7 275.6,558.8 286.6,557.5 297.6,555.2 306.8,550.6 315.9,543.3 323.2,535 330.6,526.8 337.9,517.6 343.4,509.4 348.9,501.4 359.9,483.1 370.9,463 381.8,446.5 392.8,436.4 402,429.1 411.1,423.6 420.3,415.4 430,408 440,396.8 453,384.8 465.8,373.3 478.6,364.1 493.2,349.5 507.9,334.8 522.5,323.8 537.2,314.7 548.2,307.3 559.2,301.8 570.2,297.3 581.1,293.6 592.1,291.8 600,292.3 612,286.8 626.6,280.8 644.9,271.1 670.6,259.2 681.6,247.3 692.5,234.5 703.5,223.5 714.5,212.5 725.5,203.3 736.5,192.4 747.5,185 758.5,179.5 766.7,176.8" fill="none" stroke="#00ffff" stroke-width="1" /><polyline points="80,480 86.2,486.1 96.3,498.3 106.5,507.5 116.7,512.6 126.9,517.6 137,522.7 147.2,526.8 157.4,529.8 167.6,532.9 177.7,537 187.9,540 198.1,543.1 205.2,545.1 222.5,554.2 237.1,557.9 248.1,558.4 250,555.9 261,554.9 275.6,554 286.6,552.7 297.6,550.4 306.8,545.8 315.9,538.5 323.2,530.2 330.6,522 337.9,512.8 343.4,504.6 348.9,496.6 359.9,478.3 370.9,458.2 381.8,441.7 392.8,431.6 402,424.3 411.1,418.8 420.3,410.6 430,403.2 440,392 453,380 465.8,368.5 478.6,359.3 493.2,344.7 507.9,330 522.5,319 537.2,309.9 548.2,302.5 559.2,297 570.2,292.5 581.1,288.8 592.1,287 600,287.5 612,282 626.6,276 644.9,266.3 670.6,254.4 681.6,242.5 692.5,229.7 703.5,218.7 714.5,207.7 725.5,198.5 736.5,187.6 747.5,180.2 758.5,174.7 766.7,172" fill="none" stroke="#ffff00" stroke-width="2.4" /><polyline points="80,480 86.2,486.1 96.3,498.3 106.5,507.5 116.7,512.6 126.9,517.6 137,522.7 147.2,526.8 157.4,529.8 167.6,532.9 177.7,537 187.9,540 198.1,543.1 205.2,545.1 222.5,554.2 237.1,557.9 248.1,558.4 250,555.9 261,554.9 275.6,554 286.6,552.7 297.6,550.4 306.8,545.8 315.9,538.5 323.2,530.2 330.6,522 337.9,512.8 343.4,504.6 348.9,496.6 359.9,478.3 370.9,458.2 381.8,441.7 392.8,431.6 402,424.3 411.1,418.8 420.3,410.6 430,403.2 440,392 453,380 465.8,368.5 478.6,359.3 493.2,344.7 507.9,330 522.5,319 537.2,309.9 548.2,302.5 559.2,297 570.2,292.5 581.1,288.8 592.1,287 600,287.5 612,282 626.6,276 644.9,266.3 670.6,254.4 681.6,242.5 692.5,229.7 703.5,218.7 714.5,207.7 725.5,198.5 736.5,187.6 747.5,180.2 758.5,174.7 766.7,172" fill="none" stroke="#208060" stroke-width="1" /><polyline points="80,533.8 83.1,535.9 87.2,535.9 91.3,545 96.3,551.6 102.4,552.6 108.6,554.2 113.6,549.1 119.7,540.9 125.8,531.8 132,521.6 137,514.5 141.1,513 147,512.8 153.3,512.5 157.4,508.4 162.5,503.8 165.5,503.3 168.6,507.4 173.7,514.5 178.7,524.7 182.8,533.8 186.9,543 191,551.1 195,556.2 199.1,558.2 203.2,565.4 205.4,570 208.5,579.4 211.6,587.5 214.8,596.3 219.8,606.9 226,608.5 232.2,606.3 236,601.3 239.8,594.4 243.5,585.7 246,576.3 250,567 255.5,548.7 262.8,528.6 270.1,513.9 277.5,508.1 286.6,504.8 292.1,496.8 295.8,488.6 303.1,470.3 310.4,453.8 319.6,437.3 328.7,422.7 337.9,411.7 347,402.5 356.2,397 367.2,395.2 378.2,391.6 387.3,385.1 396.5,383.9 407.5,387 414.8,386.1 422.1,377.8 427.3,367.8 434.6,358.6 442,345.8 449.3,329.3 456.6,314.7 463.9,301.8 469.4,296.3 473.1,293.6 478.6,298.2 484.1,299.1 493.2,289.9 502.4,279.9 511.6,272.5 518.9,270.7 526.2,274.4 533.5,281.7 540.9,292.7 548.2,298.2 553.7,294.5 561,287.2 568.3,279.9 575.6,274.4 584.8,270.7 592.1,272.5 600,275.3 604,273.8 608.3,269.8 613.8,254.6 623,240 632.1,227.1 641.3,218 650.4,208.8 661.4,196 668.7,204.3 676.1,201.5 683.4,188.7 690.7,181.4 698,177.7 705.4,166.7 714.5,152.1 723.7,139.2 732.8,148.4 742,141.1 747.5,138.3 754.8,138.3 762.1,142.9 766.7,145.7" fill="none" stroke="#ff00ff" stroke-width="1" /><polyline points="80,546.2 83.1,548.3 87.2,548.3 91.3,557.4 96.3,564 102.4,565 108.6,566.6 113.6,561.5 119.7,553.3 125.8,544.2 132,534 137,526.9 141.1,525.4 147,525.2 153.3,524.9 157.4,520.8 162.5,516.2 165.5,515.7 168.6,519.8 173.7,526.9 178.7,537.1 182.8,546.2 186.9,555.4 191,563.5 195,568.6 199.1,570.6 203.2,577.8 205.4,582.5 208.5,591.8 211.6,600 214.8,608.7 219.8,619.3 226,620.9 232.2,618.7 236,613.7 239.8,606.8 243.5,598.1 246,588.7 250,579.4 255.5,561.1 262.8,541 270.1,526.3 277.5,520.5 286.6,517.2 292.1,509.2 295.8,501 303.1,482.7 310.4,466.2 319.6,449.7 328.7,435.1 337.9,424.1 347,414.9 356.2,409.4 367.2,407.6 378.2,404 387.3,397.5 396.5,396.3 407.5,399.4 414.8,398.5 422.1,390.2 427.3,380.2 434.6,371 442,358.2 449.3,341.7 456.6,327.1 463.9,314.2 469.4,308.7 473.1,306 478.6,310.6 484.1,311.5 493.2,302.3 502.4,292.3 511.6,284.9 518.9,283.1 526.2,286.8 533.5,294.1 540.9,305.1 548.2,310.6 553.7,306.9 561,299.6 568.3,292.3 575.6,286.8 584.8,283.1 592.1,284.9 600,287.7 604,286.2 608.3,282.2 613.8,267 623,252.4 632.1,239.5 641.3,230.4 650.4,221.2 661.4,208.4 668.7,216.7 676.1,213.9 683.4,201.1 690.7,193.8 698,190.1 705.4,179.1 714.5,164.5 723.7,151.6 732.8,160.8 742,153.5 747.5,150.7 754.8,150.7 762.1,155.3 766.7,158.1" fill="none" stroke="#ff00ff" stroke-width="1" /><polyline points="80,540 83.1,542.1 87.2,542.1 91.3,551.2 96.3,557.8 102.4,558.8 108.6,560.4 113.6,555.3 119.7,547.1 125.8,538 132,527.8 137,520.7 141.1,519.2 147,519 153.3,518.7 157.4,514.6 162.5,510 165.5,509.5 168.6,513.6 173.7,520.7 178.7,530.9 182.8,540 186.9,549.2 191,557.3 195,562.4 199.1,564.4 203.2,571.6 205.4,576.2 208.5,585.6 211.6,593.8 214.8,602.5 219.8,613.1 226,614.7 232.2,612.5 236,607.5 239.8,600.6 243.5,591.9 246,582.5 250,573.2 255.5,554.9 262.8,534.8 270.1,520.1 277.5,514.3 286.6,511 292.1,503 295.8,494.8 303.1,476.5 310.4,460 319.6,443.5 328.7,428.9 337.9,417.9 347,408.7 356.2,403.2 367.2,401.4 378.2,397.8 387.3,391.3 396.5,390.1 407.5,393.2 414.8,392.3 422.1,384 427.3,374 434.6,364.8 442,352 449.3,335.5 456.6,320.9 463.9,308 469.4,302.5 473.1,299.8 478.6,304.4 484.1,305.3 493.2,296.1 502.4,286.1 511.6,278.7 518.9,276.9 526.2,280.6 533.5,287.9 540.9,298.9 548.2,304.4 553.7,300.7 561,293.4 568.3,286.1 575.6,280.6 584.8,276.9 592.1,278.7 600,281.5 604,280 608.3,276 613.8,260.8 623,246.2 632.1,233.3 641.3,224.2 650.4,215 661.4,202.2 668.7,210.5 676.1,207.7 683.4,194.9 690.7,187.6 698,183.9 705.4,172.9 714.5,158.3 723.7,145.4 732.8,154.6 742,147.3 747.5,144.5 754.8,144.5 762.1,149.1 766.7,151.9" fill="none" stroke="#00ff00" stroke-width="1" /><polyline points="80.6,574 87,578 94.3,590.9 101.6,600.9 109,607.3 115.4,609.5 123.6,608.3 132.8,604.6 140,598.2 149.2,592.7 158.4,585.4 167.6,581.2 175.8,580.8 181.3,584.4 189.5,592.7 195,595.4 200.5,598.2 204.2,603.7 209.7,614.7 215.2,631.1 222.5,641.2 228,646.7 231.7,648.5 240.8,650.2 248.1,649.1 256,650.2 268.3,651.1 283.9,651.6 288.5,654.7 297.6,655.6 305,663 312.3,668.5 319.2,672.1 326.9,669.9 334.2,667.5 339.7,664.8 345.2,657.5 350.7,646.5 355.3,631.8 359.9,609.9 363.5,597 369,578.7 374.5,560.4 380,543.9 385.5,533 392.8,522 400.2,511 407.5,500 414.8,489.3 420,474.4 422.7,465.2 429.2,452.4 437.4,438.7 447.5,444.2 456.6,445.1 465.8,444.7 472.2,447.3 482.3,443.2 493.2,439.2 504.2,434.1 515.2,423.1 529.9,408.5 539,395.6 546.4,380 551.8,368.5 559.2,353.8 566.5,341 575.6,328.2 584.8,323.6 594,321.2 606.5,320.9 612,324.2 619.3,323.1 630.3,327.3 643.1,332.8 652.3,338.3 659.6,340.2 668.7,336.5 676.1,330.1 683.4,320.9 688.9,311.8 699.9,306.3 709,301.7 718.2,298 725.5,292.6 732.8,278.6 740.2,260.8 745.7,251.6 754.8,242.5 766.7,230.6" fill="none" stroke="#000" stroke-width="1" /><polyline points="79.8,480.6 87,482.8 94.3,487.4 105.3,491.6 114.5,494.7 129,495.6 149.2,496 164,496.6 173,499 182.2,502.6 193.2,506.6 204.2,510.8 216.5,519.5 229.5,526 239.3,528 250,528.9 261,528.4 273.8,525.6 286.6,523.8 297.6,522.3 310.4,515.6 323.2,510 341.6,499.4 359.9,491.1 378.2,482 396.5,474.7 414.8,466.4 420,463.8 438.3,454.2 456.6,439.6 474.9,426.8 493.2,415.8 511.6,403 522.5,394.7 537.2,389.2 551.8,382.8 566.5,375.5 577.5,370 592.1,362.1 604.6,357.6 619.3,346.6 633.9,338.3 648.6,328.3 663.2,319.1 677.9,311.8 692.5,302.6 707.2,293.5 721.8,281.6 736.5,271.5 742,264.5 754.8,257.1 766.7,252.6" fill="none" stroke="#000" stroke-width="2.5" stroke-linejoin="round"/><rect x="80" y="523" width="1" height="34" fill="#ff0000"/><rect x="78" y="526" width="5" height="23" fill="#ff0000"/><rect x="87" y="541" width="1" height="7" fill="#ff0000"/><rect x="87" y="551" width="1" height="14" fill="#ff0000"/><rect x="85.5" y="548.5" width="4" height="2" fill="none" stroke="#ff0000" stroke-width="1"/><rect x="94" y="552" width="1" height="38" fill="#ff0000"/><rect x="92" y="559" width="5" height="23" fill="#ff0000"/><rect x="101" y="559" width="1" height="3" fill="#ff0000"/><rect x="101" y="580" width="1" height="7" fill="#ff0000"/><rect x="99.5" y="562.5" width="4" height="17" fill="none" stroke="#ff0000" stroke-width="1"/><rect x="108" y="560" width="1" height="24" fill="#ff0000"/><rect x="106" y="564" width="5" height="2" fill="#ff0000"/><rect x="115" y="528" width="1" height="9" fill="#ff0000"/><rect x="115" y="579" width="1" height="9" fill="#ff0000"/><rect x="113.5" y="537.5" width="4" height="41" fill="none" stroke="#ff0000" stroke-width="1"/><rect x="122" y="518" width="1" height="3" fill="#ff0000"/><rect x="122" y="549" width="1" height="3" fill="#ff0000"/><rect x="120.5" y="521.5" width="4" height="27" fill="none" stroke="#ff0000" stroke-width="1"/><rect x="129" y="493" width="1" height="16" fill="#000000"/><rect x="127.5" y="509.5" width="4" height="10" fill="none" stroke="#000000" stroke-width="1"/><rect x="136" y="497" width="1" height="1" fill="#000000"/><rect x="136" y="505" width="1" height="12" fill="#000000"/><rect x="134.5" y="498.5" width="4" height="6" fill="none" stroke="#000000" stroke-width="1"/><rect x="143" y="493" width="1" height="35" fill="#000000"/><rect x="141" y="496" width="5" height="18" fill="#000000"/><rect x="150" y="498" width="1" height="38" fill="#ff0000"/><rect x="148" y="507" width="5" height="20" fill="#ff0000"/><rect x="157" y="494" width="1" height="6" fill="#000000"/><rect x="155.5" y="500.5" width="4" height="18" fill="none" stroke="#000000" stroke-width="1"/><rect x="164" y="489" width="1" height="11" fill="#000000"/><rect x="164" y="517" width="1" height="4" fill="#000000"/><rect x="162.5" y="500.5" width="4" height="16" fill="none" stroke="#000000" stroke-width="1"/><rect x="171" y="505" width="1" height="35" fill="#ff0000"/><rect x="169" y="509" width="5" height="25" fill="#ff0000"/><rect x="178" y="519" width="1" height="41" fill="#ff0000"/><rect x="176" y="529" width="5" height="26" fill="#ff0000"/><rect x="185" y="555" width="1" height="31" fill="#ff0000"/><rect x="183" y="556" width="5" height="29" fill="#ff0000"/><rect x="192" y="566" width="1" height="22" fill="#ff0000"/><rect x="192" y="593" width="1" height="12" fill="#ff0000"/><rect x="190.5" y="588.5" width="4" height="4" fill="none" stroke="#ff0000" stroke-width="1"/><rect x="199" y="564" width="1" height="7" fill="#ff0000"/><rect x="199" y="579" width="1" height="9" fill="#ff0000"/><rect x="197.5" y="571.5" width="4" height="7" fill="none" stroke="#ff0000" stroke-width="1"/><rect x="206" y="580" width="1" height="29" fill="#ff0000"/><rect x="204" y="580" width="5" height="26" fill="#ff0000"/><rect x="213" y="607" width="1" height="33" fill="#ff0000"/><rect x="211" y="612" width="5" height="22" fill="#ff0000"/><rect x="220" y="622" width="1" height="31" fill="#ff0000"/><rect x="218" y="625" width="5" height="21" fill="#ff0000"/><rect x="227" y="611" width="1" height="6" fill="#ff0000"/><rect x="227" y="633" width="1" height="4" fill="#ff0000"/><rect x="225.5" y="617.5" width="4" height="15" fill="none" stroke="#ff0000" stroke-width="1"/><rect x="234" y="601" width="1" height="1" fill="#ff0000"/><rect x="234" y="615" width="1" height="10" fill="#ff0000"/><rect x="232.5" y="602.5" width="4" height="12" fill="none" stroke="#ff0000" stroke-width="1"/><rect x="241" y="572" width="1" height="5" fill="#ff0000"/><rect x="241" y="598" width="1" height="2" fill="#ff0000"/><rect x="239.5" y="577.5" width="4" height="20" fill="none" stroke="#ff0000" stroke-width="1"/><rect x="248" y="530" width="1" height="1" fill="#000000"/><rect x="246.5" y="531.5" width="4" height="28" fill="none" stroke="#000000" stroke-width="1"/><rect x="255" y="500" width="1" height="9" fill="#0000ff"/><rect x="253.5" y="509.5" width="4" height="13" fill="none" stroke="#0000ff" stroke-width="1"/><rect x="262" y="501" width="1" height="15" fill="#0000ff"/><rect x="260" y="504" width="5" height="2" fill="#0000ff"/><rect x="269" y="493" width="1" height="4" fill="#0000ff"/><rect x="269" y="505" width="1" height="6" fill="#0000ff"/><rect x="267.5" y="497.5" width="4" height="7" fill="none" stroke="#0000ff" stroke-width="1"/><rect x="276" y="490" width="1" height="19" fill="#0000ff"/><rect x="274" y="494" width="5" height="2" fill="#0000ff"/><rect x="283" y="489" width="1" height="29" fill="#0000ff"/><rect x="281" y="490" width="5" height="26" fill="#0000ff"/><rect x="290" y="475" width="1" height="1" fill="#0000ff"/><rect x="290" y="506" width="1" height="6" fill="#0000ff"/><rect x="288.5" y="476.5" width="4" height="29" fill="none" stroke="#0000ff" stroke-width="1"/><rect x="297" y="473" width="1" height="5" fill="#0000ff"/><rect x="297" y="482" width="1" height="7" fill="#0000ff"/><rect x="295.5" y="478.5" width="4" height="3" fill="none" stroke="#0000ff" stroke-width="1"/><rect x="304" y="424" width="1" height="7" fill="#0000ff"/><rect x="302.5" y="431.5" width="4" height="21" fill="none" stroke="#0000ff" stroke-width="1"/><rect x="311" y="417" width="1" height="15" fill="#0000ff"/><rect x="309" y="426" width="5" height="2" fill="#0000ff"/><rect x="318" y="422" width="1" height="2" fill="#0000ff"/><rect x="318" y="431" width="1" height="5" fill="#0000ff"/><rect x="316.5" y="424.5" width="4" height="6" fill="none" stroke="#0000ff" stroke-width="1"/><rect x="325" y="417" width="1" height="4" fill="#0000ff"/><rect x="325" y="424" width="1" height="6" fill="#0000ff"/><rect x="323.5" y="421.5" width="4" height="2" fill="none" stroke="#0000ff" stroke-width="1"/><rect x="332" y="396" width="1" height="6" fill="#0000ff"/><rect x="332" y="423" width="1" height="1" fill="#0000ff"/><rect x="330.5" y="402.5" width="4" height="20" fill="none" stroke="#0000ff" stroke-width="1"/><rect x="339" y="405" width="1" height="10" fill="#0000ff"/><rect x="337" y="407" width="5" height="1" fill="#0000ff"/><rect x="346" y="390" width="1" height="7" fill="#0000ff"/><rect x="346" y="400" width="1" height="4" fill="#0000ff"/><rect x="344.5" y="397.5" width="4" height="2" fill="none" stroke="#0000ff" stroke-width="1"/><rect x="353" y="394" width="1" height="1" fill="#0000ff"/><rect x="353" y="398" width="1" height="2" fill="#0000ff"/><rect x="351.5" y="395.5" width="4" height="2" fill="none" stroke="#0000ff" stroke-width="1"/><rect x="360" y="394" width="1" height="9" fill="#0000ff"/><rect x="358" y="398" width="5" height="3" fill="#0000ff"/><rect x="367" y="390" width="1" height="7" fill="#0000ff"/><rect x="367" y="404" width="1" height="3" fill="#0000ff"/><rect x="365.5" y="397.5" width="4" height="6" fill="none" stroke="#0000ff" stroke-width="1"/><rect x="374" y="379" width="1" height="24" fill="#0000ff"/><rect x="372" y="388" width="5" height="13" fill="#0000ff"/><rect x="381" y="389" width="1" height="1" fill="#0000ff"/><rect x="381" y="398" width="1" height="10" fill="#0000ff"/><rect x="379.5" y="390.5" width="4" height="7" fill="none" stroke="#0000ff" stroke-width="1"/><rect x="388" y="372" width="1" height="3" fill="#0000ff"/><rect x="388" y="396" width="1" height="3" fill="#0000ff"/><rect x="386.5" y="375.5" width="4" height="20" fill="none" stroke="#0000ff" stroke-width="1"/><rect x="395" y="388" width="1" height="1" fill="#0000ff"/><rect x="395" y="393" width="1" height="10" fill="#0000ff"/><rect x="393.5" y="389.5" width="4" height="3" fill="none" stroke="#0000ff" stroke-width="1"/><rect x="402" y="384" width="1" height="7" fill="#0000ff"/><rect x="402" y="397" width="1" height="3" fill="#0000ff"/><rect x="400.5" y="391.5" width="4" height="5" fill="none" stroke="#0000ff" stroke-width="1"/><rect x="409" y="377" width="1" height="26" fill="#0000ff"/><rect x="407" y="380" width="5" height="22" fill="#0000ff"/><rect x="416" y="377" width="1" height="3" fill="#0000ff"/><rect x="416" y="391" width="1" height="2" fill="#0000ff"/><rect x="414.5" y="380.5" width="4" height="10" fill="none" stroke="#0000ff" stroke-width="1"/><rect x="423" y="367" width="1" height="3" fill="#0000ff"/><rect x="423" y="386" width="1" height="2" fill="#0000ff"/><rect x="421.5" y="370.5" width="4" height="15" fill="none" stroke="#0000ff" stroke-width="1"/><rect x="428.5" y="359.5" width="4" height="17" fill="none" stroke="#0000ff" stroke-width="1"/><rect x="437" y="363" width="1" height="5" fill="#0000ff"/><rect x="435.5" y="347.5" width="4" height="15" fill="none" stroke="#0000ff" stroke-width="1"/><rect x="444" y="310" width="1" height="1" fill="#0000ff"/><rect x="444" y="347" width="1" height="2" fill="#0000ff"/><rect x="442.5" y="311.5" width="4" height="35" fill="none" stroke="#0000ff" stroke-width="1"/><rect x="451" y="294" width="1" height="26" fill="#0000ff"/><rect x="449" y="304" width="5" height="1" fill="#0000ff"/><rect x="458" y="301" width="1" height="4" fill="#0000ff"/><rect x="458" y="308" width="1" height="6" fill="#0000ff"/><rect x="456.5" y="305.5" width="4" height="2" fill="none" stroke="#0000ff" stroke-width="1"/><rect x="465" y="288" width="1" height="5" fill="#0000ff"/><rect x="463.5" y="293.5" width="4" height="8" fill="none" stroke="#0000ff" stroke-width="1"/><rect x="470.5" y="277.5" width="4" height="14" fill="none" stroke="#0000ff" stroke-width="1"/><rect x="479" y="271" width="1" height="47" fill="#0000ff"/><rect x="477" y="279" width="5" height="38" fill="#0000ff"/><rect x="486" y="288" width="1" height="1" fill="#0000ff"/><rect x="486" y="303" width="1" height="9" fill="#0000ff"/><rect x="484.5" y="289.5" width="4" height="13" fill="none" stroke="#0000ff" stroke-width="1"/><rect x="493" y="274" width="1" height="22" fill="#0000ff"/><rect x="491" y="285" width="5" height="1" fill="#0000ff"/><rect x="500" y="268" width="1" height="5" fill="#0000ff"/><rect x="498.5" y="273.5" width="4" height="9" fill="none" stroke="#0000ff" stroke-width="1"/><rect x="507" y="267" width="1" height="2" fill="#0000ff"/><rect x="507" y="275" width="1" height="3" fill="#0000ff"/><rect x="505.5" y="269.5" width="4" height="5" fill="none" stroke="#0000ff" stroke-width="1"/><rect x="514" y="263" width="1" height="8" fill="#0000ff"/><rect x="512" y="267" width="5" height="2" fill="#0000ff"/><rect x="521" y="266" width="1" height="21" fill="#0000ff"/><rect x="519" y="269" width="5" height="8" fill="#0000ff"/><rect x="528" y="285" width="1" height="19" fill="#0000ff"/><rect x="526" y="290" width="5" height="2" fill="#0000ff"/><rect x="535" y="299" width="1" height="18" fill="#0000ff"/><rect x="533" y="301" width="5" height="13" fill="#0000ff"/><rect x="542" y="300" width="1" height="24" fill="#0000ff"/><rect x="540" y="317" width="5" height="6" fill="#0000ff"/><rect x="549" y="303" width="1" height="14" fill="#0000ff"/><rect x="549" y="322" width="1" height="5" fill="#0000ff"/><rect x="547.5" y="317.5" width="4" height="4" fill="none" stroke="#0000ff" stroke-width="1"/><rect x="556" y="279" width="1" height="1" fill="#0000ff"/><rect x="556" y="314" width="1" height="3" fill="#0000ff"/><rect x="554.5" y="280.5" width="4" height="33" fill="none" stroke="#0000ff" stroke-width="1"/><rect x="563" y="279" width="1" height="5" fill="#0000ff"/><rect x="563" y="293" width="1" height="6" fill="#0000ff"/><rect x="561.5" y="284.5" width="4" height="8" fill="none" stroke="#0000ff" stroke-width="1"/><rect x="570" y="264" width="1" height="4" fill="#0000ff"/><rect x="570" y="283" width="1" height="2" fill="#0000ff"/><rect x="568.5" y="268.5" width="4" height="14" fill="none" stroke="#0000ff" stroke-width="1"/><rect x="577" y="260" width="1" height="34" fill="#0000ff"/><rect x="575" y="263" width="5" height="8" fill="#0000ff"/><rect x="584" y="258" width="1" height="20" fill="#0000ff"/><rect x="582" y="264" width="5" height="5" fill="#0000ff"/><rect x="591" y="269" width="1" height="21" fill="#0000ff"/><rect x="589" y="275" width="5" height="4" fill="#0000ff"/><rect x="598" y="291" width="1" height="17" fill="#0000ff"/><rect x="596" y="293" width="5" height="1" fill="#0000ff"/><rect x="605" y="267" width="1" height="3" fill="#0000ff"/><rect x="605" y="283" width="1" height="11" fill="#0000ff"/><rect x="603.5" y="270.5" width="4" height="12" fill="none" stroke="#0000ff" stroke-width="1"/><rect x="612" y="235" width="1" height="2" fill="#0000ff"/><rect x="612" y="262" width="1" height="6" fill="#0000ff"/><rect x="610.5" y="237.5" width="4" height="24" fill="none" stroke="#0000ff" stroke-width="1"/><rect x="619" y="220" width="1" height="15" fill="#0000ff"/><rect x="617" y="229" width="5" height="3" fill="#0000ff"/><rect x="626" y="221" width="1" height="2" fill="#0000ff"/><rect x="626" y="228" width="1" height="7" fill="#0000ff"/><rect x="624.5" y="223.5" width="4" height="4" fill="none" stroke="#0000ff" stroke-width="1"/><rect x="633" y="200" width="1" height="23" fill="#0000ff"/><rect x="631" y="209" width="5" height="12" fill="#0000ff"/><rect x="640" y="204" width="1" height="2" fill="#0000ff"/><rect x="640" y="211" width="1" height="10" fill="#0000ff"/><rect x="638.5" y="206.5" width="4" height="4" fill="none" stroke="#0000ff" stroke-width="1"/><rect x="647" y="199" width="1" height="15" fill="#0000ff"/><rect x="645" y="208" width="5" height="2" fill="#0000ff"/><rect x="654" y="186" width="1" height="1" fill="#0000ff"/><rect x="654" y="207" width="1" height="4" fill="#0000ff"/><rect x="652.5" y="187.5" width="4" height="19" fill="none" stroke="#0000ff" stroke-width="1"/><rect x="661" y="185" width="1" height="9" fill="#0000ff"/><rect x="659" y="188" width="5" height="1" fill="#0000ff"/><rect x="668" y="199" width="1" height="35" fill="#0000ff"/><rect x="666" y="203" width="5" height="31" fill="#0000ff"/><rect x="675" y="225" width="1" height="5" fill="#0000ff"/><rect x="673.5" y="199.5" width="4" height="25" fill="none" stroke="#0000ff" stroke-width="1"/><rect x="682" y="160" width="1" height="9" fill="#0000ff"/><rect x="682" y="194" width="1" height="5" fill="#0000ff"/><rect x="680.5" y="169.5" width="4" height="24" fill="none" stroke="#0000ff" stroke-width="1"/><rect x="689" y="170" width="1" height="23" fill="#0000ff"/><rect x="687" y="170" width="5" height="9" fill="#0000ff"/><rect x="696" y="170" width="1" height="2" fill="#0000ff"/><rect x="696" y="175" width="1" height="9" fill="#0000ff"/><rect x="694.5" y="172.5" width="4" height="2" fill="none" stroke="#0000ff" stroke-width="1"/><rect x="703" y="146" width="1" height="3" fill="#0000ff"/><rect x="703" y="162" width="1" height="2" fill="#0000ff"/><rect x="701.5" y="149.5" width="4" height="12" fill="none" stroke="#0000ff" stroke-width="1"/><rect x="710" y="146" width="1" height="1" fill="#0000ff"/><rect x="710" y="150" width="1" height="4" fill="#0000ff"/><rect x="708.5" y="147.5" width="4" height="2" fill="none" stroke="#0000ff" stroke-width="1"/><rect x="717" y="129" width="1" height="2" fill="#0000ff"/><rect x="717" y="145" width="1" height="2" fill="#0000ff"/><rect x="715.5" y="131.5" width="4" height="13" fill="none" stroke="#0000ff" stroke-width="1"/><rect x="724" y="119" width="1" height="18" fill="#0000ff"/><rect x="722" y="131" width="5" height="4" fill="#0000ff"/><rect x="731" y="162" width="1" height="30" fill="#0000ff"/><rect x="729" y="164" width="5" height="9" fill="#0000ff"/><rect x="738" y="145" width="1" height="1" fill="#0000ff"/><rect x="738" y="160" width="1" height="12" fill="#0000ff"/><rect x="736.5" y="146.5" width="4" height="13" fill="none" stroke="#0000ff" stroke-width="1"/><rect x="745" y="128" width="1" height="1" fill="#0000ff"/><rect x="745" y="145" width="1" height="2" fill="#0000ff"/><rect x="743.5" y="129.5" width="4" height="15" fill="none" stroke="#0000ff" stroke-width="1"/><rect x="752" y="124" width="1" height="23" fill="#0000ff"/><rect x="750" y="128" width="5" height="16" fill="#0000ff"/><rect x="759" y="150" width="1" height="22" fill="#0000ff"/><rect x="757" y="152" width="5" height="9" fill="#0000ff"/><rect x="766" y="155" width="1" height="1" fill="#0000ff"/><rect x="766" y="168" width="1" height="10" fill="#0000ff"/><rect x="764.5" y="156.5" width="4" height="11" fill="none" stroke="#0000ff" stroke-width="1"/><path d="M94.4 316V341.3M87.9 327.3L94.4 341.3L100.9 327.3" fill="none" stroke="#ff00ff" stroke-width="1"/><path d="M220.6 314.2V339.2M214.1 325.2L220.6 339.2L227.1 325.2" fill="none" stroke="#ff00ff" stroke-width="1"/><path d="M402.3 312V337M395.8 323L402.3 337L408.8 323" fill="none" stroke="#ff00ff" stroke-width="1"/><path d="M458.6 217.5V242.2M452.1 228.2L458.6 242.2L465.1 228.2" fill="none" stroke="#ff00ff" stroke-width="1"/><path d="M584.4 194.5V219.3M577.9 205.3L584.4 219.3L590.9 205.3" fill="none" stroke="#ff00ff" stroke-width="1"/><path d="M605.6 195.8V220.5M599.1 206.5L605.6 220.5L612.1 206.5" fill="none" stroke="#ff00ff" stroke-width="1"/><path d="M822.5 118V143.5M816 129.5L822.5 143.5L829 129.5" fill="none" stroke="#ff00ff" stroke-width="1"/><path d="M101.5 312.1V337.8M95 323.8L101.5 337.8L108 323.8" fill="none" stroke="#008080" stroke-width="1"/><path d="M157.6 314.2V339.2M151.1 325.2L157.6 339.2L164.1 325.2" fill="none" stroke="#008080" stroke-width="1"/><path d="M367.2 311.5V336.4M360.7 322.4L367.2 336.4L373.7 322.4" fill="none" stroke="#008080" stroke-width="1"/><path d="M395.6 312V337M389.1 323L395.6 337L402.1 323" fill="none" stroke="#008080" stroke-width="1"/><path d="M549.5 195V220M543 206L549.5 220L556 206" fill="none" stroke="#008080" stroke-width="1"/><path d="M577.3 191V215.8M570.8 201.8L577.3 215.8L583.8 201.8" fill="none" stroke="#008080" stroke-width="1"/><path d="M696.6 134.5V159.2M690.1 145.2L696.6 159.2L703.1 145.2" fill="none" stroke="#008080" stroke-width="1"/><path d="M150.3 431V453.7M141.3 434.7L150.3 453.7L159.3 434.7" fill="none" stroke="#808080" stroke-width="2"/><path d="M171.1 441V457M162.1 438L171.1 457L180.1 438" fill="none" stroke="#808080" stroke-width="2"/><path d="M178.7 471V495.4M169.7 476.4L178.7 495.4L187.7 476.4" fill="none" stroke="#808080" stroke-width="2"/><path d="M408.4 341V365.7M399.4 346.7L408.4 365.7L417.4 346.7" fill="none" stroke="#808080" stroke-width="2"/><path d="M479 340.6V364.8M470 345.8L479 364.8L488 345.8" fill="none" stroke="#808080" stroke-width="2"/><path d="M528 249.4V275.1M519 256.1L528 275.1L537 256.1" fill="none" stroke="#808080" stroke-width="2"/><path d="M598.4 239V264M589.4 245L598.4 264L607.4 245" fill="none" stroke="#808080" stroke-width="2"/><path d="M668.4 166.5V191.2M659.4 172.2L668.4 191.2L677.4 172.2" fill="none" stroke="#808080" stroke-width="2"/><path d="M730.6 108.8V133.5M721.6 114.5L730.6 133.5L739.6 114.5" fill="none" stroke="#808080" stroke-width="2"/><path d="M759.4 100.6V125.3M750.4 106.3L759.4 125.3L768.4 106.3" fill="none" stroke="#808080" stroke-width="2"/><path d="M80.6 640V607.5M71.2 628.2L80.6 607.5L90 628.2" fill="none" stroke="#808080" stroke-width="2"/><path d="M101.1 650V618M91.7 638.7L101.1 618L110.5 638.7" fill="none" stroke="#808080" stroke-width="2"/><path d="M199 647.5V615.4M189.6 636.1L199 615.4L208.4 636.1" fill="none" stroke="#808080" stroke-width="2"/><path d="M227 697.6V665.2M217.6 685.9L227 665.2L236.4 685.9" fill="none" stroke="#808080" stroke-width="2"/><path d="M549 378V344.7M539.6 365.4L549 344.7L558.4 365.4" fill="none" stroke="#808080" stroke-width="2"/><path d="M178.5 600V567M171.5 583L178.5 567L185.5 583" fill="none" stroke="#808080" stroke-width="1"/><path d="M80.6 598V565M71.1 586L80.6 565L90.1 586" fill="none" stroke="#00ff00" stroke-width="2"/><path d="M115 634.5V602M105.5 623L115 602L124.5 623" fill="none" stroke="#00ff00" stroke-width="2"/><path d="M157.1 571.6V539M147.6 560L157.1 539L166.6 560" fill="none" stroke="#00ff00" stroke-width="2"/><path d="M234.4 671.6V639.2M224.9 660.2L234.4 639.2L243.9 660.2" fill="none" stroke="#00ff00" stroke-width="2"/><path d="M415.7 499.4V467.3M406.2 488.3L415.7 467.3L425.2 488.3" fill="none" stroke="#00ff00" stroke-width="2"/><path d="M486 402.6V370M476.5 391L486 370L495.5 391" fill="none" stroke="#00ff00" stroke-width="2"/><path d="M556 359.3V325.4M546.5 346.4L556 325.4L565.5 346.4" fill="none" stroke="#00ff00" stroke-width="2"/><path d="M605 343.8V310.9M595.5 331.9L605 310.9L614.5 331.9" fill="none" stroke="#00ff00" stroke-width="2"/><path d="M674.8 292.6V260.4M665.3 281.4L674.8 260.4L684.3 281.4" fill="none" stroke="#00ff00" stroke-width="2"/><path d="M738 245.2V213.2M728.5 234.2L738 213.2L747.5 234.2" fill="none" stroke="#00ff00" stroke-width="2"/><path d="M94.3 497.5V521.4M85.3 501.4L94.3 521.4L103.3 501.4" fill="none" stroke="#ff0000" stroke-width="2.4"/><path d="M171.1 457.3V479.7M162.1 459.7L171.1 479.7L180.1 459.7" fill="none" stroke="#ff0000" stroke-width="2.4"/><path d="M206 529.5V554.2M197 534.2L206 554.2L215 534.2" fill="none" stroke="#ff0000" stroke-width="2.4"/><path d="M542.3 268.7V292.5M533.3 272.5L542.3 292.5L551.3 272.5" fill="none" stroke="#ff0000" stroke-width="2.4"/><path d="M87.5 458.8V481.7M81 469.7L87.5 481.7L94 469.7" fill="none" stroke="#ff0000" stroke-width="1"/><path d="M80.6 483.7V507.1M74.1 495.1L80.6 507.1L87.1 495.1" fill="none" stroke="#ff0000" stroke-width="1"/><path d="M101.4 505V538.2M94.9 526.2L101.4 538.2L107.9 526.2" fill="none" stroke="#ff0000" stroke-width="1"/><path d="M108.6 499.5V523.4M102.1 511.4L108.6 523.4L115.1 511.4" fill="none" stroke="#ff0000" stroke-width="1"/><path d="M115.7 489.3V512.2M109.2 500.2L115.7 512.2L122.2 500.2" fill="none" stroke="#ff0000" stroke-width="1"/><path d="M150.6 461.9V487.3M144.1 475.3L150.6 487.3L157.1 475.3" fill="none" stroke="#ff0000" stroke-width="1"/><path d="M598 264V280.5M592 270.5L598 280.5L604 270.5" fill="none" stroke="#ff0000" stroke-width="1"/></g><g shape-rendering="crispEdges" stroke="#ff0000"><line x1="808" y1="151.5" x2="858" y2="151.5"/><line x1="808" y1="272.5" x2="865" y2="272.5"/><line x1="801" y1="453.5" x2="858" y2="453.5"/><line x1="808" y1="546.5" x2="865" y2="546.5"/><line x1="808" y1="642.5" x2="865" y2="642.5"/></g><g font-weight="bold" font-size="12.5" fill="#000"><text x="822" y="147">4992</text><text x="822" y="265">4781</text><text x="815" y="447.5">4457</text><text x="822" y="540.7">4289</text><text x="822" y="637">4121</text><text x="773" y="116.5" font-size="13">COVER SIGNAL</text><text x="248" y="698" font-size="13">Large T Structure</text><text x="550" y="711" font-size="13">Small T</text><text x="934" y="146.5" font-size="13">Next Echo and Pulse Highs</text><text x="934" y="194.5" font-size="13">* COVER SIGNAL *</text><text x="934" y="210.5" font-size="13">* SHORT ALERT *</text><text x="934" y="242.5" font-size="13">COVER Signal at 4980 on 20 Feb</text><text x="934" y="274.5" font-size="13">T volume Osc: positive on 09 Feb</text><text x="934" y="290.5" font-size="13">Up</text><text x="934" y="322.5" font-size="13">Osc: SELL Signal on 20 Feb</text><text x="934" y="338.5" font-size="13">Down</text><text x="934" y="402.5" font-size="13">Click here for</text><text x="934" y="418.5" font-size="13">More Information...</text><text x="934" y="706.5" font-size="13">Next Projected Low(s)</text></g></svg>
<div class="abs" style="left:76px;top:753px;width:1175px;height:187px;border:1px solid;border-color:#808080 #fff #fff #808080"><div style="width:100%;height:100%;border:1px solid;border-color:#000 #fff #d4d0c8 #000;background:#d4d0c8"></div></div><div class="abs" style="left:78px;top:755px;width:1110px;height:166px;background:#fff;border-bottom:1px solid #000"></div><div class="abs" style="left:1188px;top:98px;width:61px;height:651px;background:#d4d0c8;border:1px solid #000;border-top:none"></div><div class="abs" style="left:1189px;top:98px;width:59px;height:8px;background:#ffffe1;border-bottom:1px solid #000;overflow:hidden;font-weight:bold;font-size:12.6px;line-height:12px;text-align:center"><div style="margin-top:-7px">5063.95</div></div><div class="abs" style="left:1188px;top:755px;width:61px;height:184px;background:#d4d0c8;border:1px solid #000;border-top:none"></div><div class="abs" style="left:1190px;top:907px;width:58px;height:15px;background:#ffffe1;border-top:1px solid #000;border-bottom:1px solid #000;font-weight:bold;font-size:12.6px;line-height:13px;text-align:center">-147</div><svg class="abs" style="left:0;top:0" width="1280" height="983" viewBox="0 0 1280 983" font-family="Liberation Sans, sans-serif"><defs><clipPath id="oc"><rect x="78" y="755" width="1110" height="166"/></clipPath></defs><g shape-rendering="crispEdges" clip-path="url(#oc)"><rect x="80" y="851" width="1" height="55" fill="#0000ff"/><rect x="87" y="851" width="1" height="57" fill="#0000ff"/><rect x="94" y="851" width="1" height="57" fill="#0000ff"/><rect x="101" y="851" width="1" height="57" fill="#0000ff"/><rect x="108" y="851" width="1" height="58" fill="#0000ff"/><rect x="115" y="851" width="1" height="59" fill="#0000ff"/><rect x="122" y="851" width="1" height="56" fill="#0000ff"/><rect x="129" y="851" width="1" height="45" fill="#0000ff"/><rect x="136" y="851" width="1" height="34" fill="#0000ff"/><rect x="143" y="851" width="1" height="25" fill="#0000ff"/><rect x="150" y="851" width="1" height="18" fill="#0000ff"/><rect x="157" y="851" width="1" height="13" fill="#0000ff"/><rect x="164" y="851" width="1" height="13" fill="#0000ff"/><rect x="171" y="851" width="1" height="13" fill="#0000ff"/><rect x="178" y="851" width="1" height="14" fill="#0000ff"/><rect x="185" y="851" width="1" height="19" fill="#0000ff"/><rect x="192" y="851" width="1" height="28" fill="#0000ff"/><rect x="199" y="851" width="1" height="36" fill="#0000ff"/><rect x="206" y="851" width="1" height="43" fill="#0000ff"/><rect x="213" y="851" width="1" height="53" fill="#0000ff"/><rect x="220" y="851" width="1" height="59" fill="#0000ff"/><rect x="227" y="851" width="1" height="61" fill="#0000ff"/><rect x="234" y="851" width="1" height="62" fill="#0000ff"/><rect x="241" y="851" width="1" height="59" fill="#0000ff"/><rect x="248" y="851" width="1" height="44" fill="#0000ff"/><rect x="255" y="851" width="1" height="24" fill="#0000ff"/><rect x="262" y="851" width="1" height="5" fill="#0000ff"/><rect x="269" y="837" width="1" height="15" fill="#0000ff"/><rect x="276" y="824" width="1" height="28" fill="#0000ff"/><rect x="283" y="817" width="1" height="35" fill="#0000ff"/><rect x="290" y="815" width="1" height="37" fill="#0000ff"/><rect x="297" y="812" width="1" height="40" fill="#0000ff"/><rect x="304" y="805" width="1" height="47" fill="#0000ff"/><rect x="311" y="796" width="1" height="56" fill="#0000ff"/><rect x="318" y="788" width="1" height="64" fill="#0000ff"/><rect x="325" y="779" width="1" height="73" fill="#0000ff"/><rect x="332" y="772" width="1" height="80" fill="#0000ff"/><rect x="339" y="771" width="1" height="81" fill="#0000ff"/><rect x="346" y="771" width="1" height="81" fill="#0000ff"/><rect x="353" y="770" width="1" height="82" fill="#0000ff"/><rect x="360" y="769" width="1" height="83" fill="#0000ff"/><rect x="367" y="770" width="1" height="82" fill="#0000ff"/><rect x="374" y="770" width="1" height="82" fill="#0000ff"/><rect x="381" y="773" width="1" height="79" fill="#0000ff"/><rect x="388" y="774" width="1" height="78" fill="#0000ff"/><rect x="395" y="776" width="1" height="76" fill="#0000ff"/><rect x="402" y="777" width="1" height="75" fill="#0000ff"/><rect x="409" y="780" width="1" height="72" fill="#0000ff"/><rect x="416" y="781" width="1" height="71" fill="#0000ff"/><rect x="423" y="783" width="1" height="69" fill="#0000ff"/><rect x="430" y="783" width="1" height="69" fill="#0000ff"/><rect x="437" y="783" width="1" height="69" fill="#0000ff"/><rect x="444" y="779" width="1" height="73" fill="#0000ff"/><rect x="451" y="773" width="1" height="79" fill="#0000ff"/><rect x="458" y="769" width="1" height="83" fill="#0000ff"/><rect x="465" y="766" width="1" height="86" fill="#0000ff"/><rect x="472" y="762" width="1" height="90" fill="#0000ff"/><rect x="479" y="764" width="1" height="88" fill="#0000ff"/><rect x="486" y="769" width="1" height="83" fill="#0000ff"/><rect x="493" y="771" width="1" height="81" fill="#0000ff"/><rect x="500" y="773" width="1" height="79" fill="#0000ff"/><rect x="507" y="777" width="1" height="75" fill="#0000ff"/><rect x="514" y="778" width="1" height="74" fill="#0000ff"/><rect x="521" y="779" width="1" height="73" fill="#0000ff"/><rect x="528" y="785" width="1" height="67" fill="#0000ff"/><rect x="535" y="794" width="1" height="58" fill="#0000ff"/><rect x="542" y="803" width="1" height="49" fill="#0000ff"/><rect x="549" y="813" width="1" height="39" fill="#0000ff"/><rect x="556" y="819" width="1" height="33" fill="#0000ff"/><rect x="563" y="822" width="1" height="30" fill="#0000ff"/><rect x="570" y="820" width="1" height="32" fill="#0000ff"/><rect x="577" y="817" width="1" height="35" fill="#0000ff"/><rect x="584" y="813" width="1" height="39" fill="#0000ff"/><rect x="591" y="813" width="1" height="39" fill="#0000ff"/><rect x="598" y="817" width="1" height="35" fill="#0000ff"/><rect x="605" y="820" width="1" height="32" fill="#0000ff"/><rect x="612" y="819" width="1" height="33" fill="#0000ff"/><rect x="619" y="817" width="1" height="35" fill="#0000ff"/><rect x="626" y="813" width="1" height="39" fill="#0000ff"/><rect x="633" y="803" width="1" height="49" fill="#0000ff"/><rect x="640" y="797" width="1" height="55" fill="#0000ff"/><rect x="647" y="794" width="1" height="58" fill="#0000ff"/><rect x="654" y="794" width="1" height="58" fill="#0000ff"/><rect x="661" y="792" width="1" height="60" fill="#0000ff"/><rect x="668" y="796" width="1" height="56" fill="#0000ff"/><rect x="675" y="800" width="1" height="52" fill="#0000ff"/><rect x="682" y="800" width="1" height="52" fill="#0000ff"/><rect x="689" y="801" width="1" height="51" fill="#0000ff"/><rect x="696" y="801" width="1" height="51" fill="#0000ff"/><rect x="703" y="795" width="1" height="57" fill="#0000ff"/><rect x="710" y="789" width="1" height="63" fill="#0000ff"/><rect x="717" y="786" width="1" height="66" fill="#0000ff"/><rect x="724" y="781" width="1" height="71" fill="#0000ff"/><rect x="731" y="784" width="1" height="68" fill="#0000ff"/><rect x="738" y="787" width="1" height="65" fill="#0000ff"/><rect x="745" y="788" width="1" height="64" fill="#0000ff"/><rect x="752" y="791" width="1" height="61" fill="#0000ff"/><rect x="759" y="798" width="1" height="54" fill="#0000ff"/><rect x="766" y="799" width="1" height="53" fill="#0000ff"/><polyline points="80.7,822.5 265.4,822.5 267.3,823.6 282.3,823.6 289.8,822.3 301,821.4 311.3,819.9 316,819.1 332.9,814.8 340.4,810.5 353.5,806.8 368.5,803.6 381.6,799.8 394.8,797.9 409.8,796.1 422.9,794.4 445.4,793.6 458.5,790.4 471.6,788.6 486.6,786.3 499.8,784.3 514.8,784.3 522.3,783.3 529.8,783.3 541,785.2 556,788.2 567.3,791.4 582.3,794.2 597.3,796.4 612.3,798.5 623.5,800.4 647.9,800.4 653.5,799.3 706,799.3 717.3,798.1 724.8,797 732.3,796.1 741.6,796.1 745.4,795.1 767,795.1" fill="none" stroke="#000" stroke-width="1" /><polyline points="80.7,879.1 94.8,881.4 108.8,884.8 122.9,886.6 130.4,887.4 137.9,887 151,884.8 164.1,882.7 177.3,881 192.3,880.1 199.8,881.4 209.1,881.8 220.4,884.2 227.9,886.1 239.1,888.5 250.4,888.5 259.8,886.5 767,886.5" fill="none" stroke="#000" stroke-width="1" /><path d="M185.1 802.3V834.5M175.5 813L185.1 834.5L194.7 813" fill="none" stroke="#ff0000" stroke-width="2"/><path d="M527.9 738V770.8M518.3 749.3L527.9 770.8L537.5 749.3" fill="none" stroke="#ff0000" stroke-width="2"/><path d="M675 754.8V787.6M665.4 766.1L675 787.6L684.6 766.1" fill="none" stroke="#ff0000" stroke-width="2"/><path d="M759 752V784.8M749.4 763.3L759 784.8L768.6 763.3" fill="none" stroke="#ff0000" stroke-width="2"/><path d="M136 926V894.5M126.6 915.1L136 894.5L145.4 915.1" fill="none" stroke="#00ff00" stroke-width="2"/><path d="M255 926V894.5M245.6 915.1L255 894.5L264.4 915.1" fill="none" stroke="#00ff00" stroke-width="2"/><path d="M632.9 904.8V872M623.5 892.6L632.9 872L642.3 892.6" fill="none" stroke="#00ff00" stroke-width="2"/><path d="M703.2 902V869.2M693.8 889.8L703.2 869.2L712.6 889.8" fill="none" stroke="#00ff00" stroke-width="2"/></g><g shape-rendering="crispEdges"><rect x="1190" y="112" width="1" height="1" fill="#000"/><rect x="1190" y="118" width="3" height="1" fill="#000"/><rect x="1190" y="123" width="1" height="1" fill="#000"/><rect x="1190" y="129" width="1" height="1" fill="#000"/><rect x="1190" y="135" width="1" height="1" fill="#000"/><rect x="1190" y="140" width="1" height="1" fill="#000"/><rect x="1190" y="146" width="6" height="1" fill="#000"/><rect x="1190" y="152" width="1" height="1" fill="#000"/><rect x="1190" y="157" width="1" height="1" fill="#000"/><rect x="1190" y="163" width="1" height="1" fill="#000"/><rect x="1190" y="169" width="1" height="1" fill="#000"/><rect x="1190" y="174" width="3" height="1" fill="#000"/><rect x="1190" y="180" width="1" height="1" fill="#000"/><rect x="1190" y="186" width="1" height="1" fill="#000"/><rect x="1190" y="191" width="1" height="1" fill="#000"/><rect x="1190" y="197" width="1" height="1" fill="#000"/><rect x="1190" y="202" width="6" height="1" fill="#000"/><rect x="1190" y="208" width="1" height="1" fill="#000"/><rect x="1190" y="214" width="1" height="1" fill="#000"/><rect x="1190" y="219" width="1" height="1" fill="#000"/><rect x="1190" y="225" width="1" height="1" fill="#000"/><rect x="1190" y="231" width="3" height="1" fill="#000"/><rect x="1190" y="236" width="1" height="1" fill="#000"/><rect x="1190" y="242" width="1" height="1" fill="#000"/><rect x="1190" y="248" width="1" height="1" fill="#000"/><rect x="1190" y="253" width="1" height="1" fill="#000"/><rect x="1190" y="259" width="6" height="1" fill="#000"/><rect x="1190" y="265" width="1" height="1" fill="#000"/><rect x="1190" y="270" width="1" height="1" fill="#000"/><rect x="1190" y="276" width="1" height="1" fill="#000"/><rect x="1190" y="282" width="1" height="1" fill="#000"/><rect x="1190" y="287" width="3" height="1" fill="#000"/><rect x="1190" y="293" width="1" height="1" fill="#000"/><rect x="1190" y="299" width="1" height="1" fill="#000"/><rect x="1190" y="304" width="1" height="1" fill="#000"/><rect x="1190" y="310" width="1" height="1" fill="#000"/><rect x="1190" y="316" width="6" height="1" fill="#000"/><rect x="1190" y="321" width="1" height="1" fill="#000"/><rect x="1190" y="327" width="1" height="1" fill="#000"/><rect x="1190" y="332" width="1" height="1" fill="#000"/><rect x="1190" y="338" width="1" height="1" fill="#000"/><rect x="1190" y="344" width="3" height="1" fill="#000"/><rect x="1190" y="349" width="1" height="1" fill="#000"/><rect x="1190" y="355" width="1" height="1" fill="#000"/><rect x="1190" y="361" width="1" height="1" fill="#000"/><rect x="1190" y="366" width="1" height="1" fill="#000"/><rect x="1190" y="372" width="6" height="1" fill="#000"/><rect x="1190" y="378" width="1" height="1" fill="#000"/><rect x="1190" y="383" width="1" height="1" fill="#000"/><rect x="1190" y="389" width="1" height="1" fill="#000"/><rect x="1190" y="395" width="1" height="1" fill="#000"/><rect x="1190" y="400" width="3" height="1" fill="#000"/><rect x="1190" y="406" width="1" height="1" fill="#000"/><rect x="1190" y="412" width="1" height="1" fill="#000"/><rect x="1190" y="417" width="1" height="1" fill="#000"/><rect x="1190" y="423" width="1" height="1" fill="#000"/><rect x="1190" y="428" width="6" height="1" fill="#000"/><rect x="1190" y="434" width="1" height="1" fill="#000"/><rect x="1190" y="440" width="1" height="1" fill="#000"/><rect x="1190" y="445" width="1" height="1" fill="#000"/><rect x="1190" y="451" width="1" height="1" fill="#000"/><rect x="1190" y="457" width="3" height="1" fill="#000"/><rect x="1190" y="462" width="1" height="1" fill="#000"/><rect x="1190" y="468" width="1" height="1" fill="#000"/><rect x="1190" y="474" width="1" height="1" fill="#000"/><rect x="1190" y="479" width="1" height="1" fill="#000"/><rect x="1190" y="485" width="6" height="1" fill="#000"/><rect x="1190" y="491" width="1" height="1" fill="#000"/><rect x="1190" y="496" width="1" height="1" fill="#000"/><rect x="1190" y="502" width="1" height="1" fill="#000"/><rect x="1190" y="508" width="1" height="1" fill="#000"/><rect x="1190" y="513" width="3" height="1" fill="#000"/><rect x="1190" y="519" width="1" height="1" fill="#000"/><rect x="1190" y="525" width="1" height="1" fill="#000"/><rect x="1190" y="530" width="1" height="1" fill="#000"/><rect x="1190" y="536" width="1" height="1" fill="#000"/><rect x="1190" y="542" width="6" height="1" fill="#000"/><rect x="1190" y="547" width="1" height="1" fill="#000"/><rect x="1190" y="553" width="1" height="1" fill="#000"/><rect x="1190" y="558" width="1" height="1" fill="#000"/><rect x="1190" y="564" width="1" height="1" fill="#000"/><rect x="1190" y="570" width="3" height="1" fill="#000"/><rect x="1190" y="575" width="1" height="1" fill="#000"/><rect x="1190" y="581" width="1" height="1" fill="#000"/><rect x="1190" y="587" width="1" height="1" fill="#000"/><rect x="1190" y="592" width="1" height="1" fill="#000"/><rect x="1190" y="598" width="6" height="1" fill="#000"/><rect x="1190" y="604" width="1" height="1" fill="#000"/><rect x="1190" y="609" width="1" height="1" fill="#000"/><rect x="1190" y="615" width="1" height="1" fill="#000"/><rect x="1190" y="621" width="1" height="1" fill="#000"/><rect x="1190" y="626" width="3" height="1" fill="#000"/><rect x="1190" y="632" width="1" height="1" fill="#000"/><rect x="1190" y="638" width="1" height="1" fill="#000"/><rect x="1190" y="643" width="1" height="1" fill="#000"/><rect x="1190" y="649" width="1" height="1" fill="#000"/><rect x="1190" y="654" width="6" height="1" fill="#000"/><rect x="1190" y="660" width="1" height="1" fill="#000"/><rect x="1190" y="666" width="1" height="1" fill="#000"/><rect x="1190" y="671" width="1" height="1" fill="#000"/><rect x="1190" y="677" width="1" height="1" fill="#000"/><rect x="1190" y="683" width="3" height="1" fill="#000"/><rect x="1190" y="688" width="1" height="1" fill="#000"/><rect x="1190" y="694" width="1" height="1" fill="#000"/><rect x="1190" y="700" width="1" height="1" fill="#000"/><rect x="1190" y="705" width="1" height="1" fill="#000"/><rect x="1190" y="711" width="6" height="1" fill="#000"/><rect x="1190" y="717" width="1" height="1" fill="#000"/><rect x="1190" y="722" width="1" height="1" fill="#000"/><rect x="1190" y="728" width="1" height="1" fill="#000"/><rect x="1190" y="734" width="1" height="1" fill="#000"/><rect x="1190" y="739" width="3" height="1" fill="#000"/><rect x="1190" y="745" width="1" height="1" fill="#000"/><rect x="1190" y="761" width="1" height="1" fill="#000"/><rect x="1190" y="765" width="6" height="1" fill="#000"/><rect x="1190" y="769" width="1" height="1" fill="#000"/><rect x="1190" y="774" width="1" height="1" fill="#000"/><rect x="1190" y="778" width="1" height="1" fill="#000"/><rect x="1190" y="782" width="1" height="1" fill="#000"/><rect x="1190" y="786" width="3" height="1" fill="#000"/><rect x="1190" y="791" width="1" height="1" fill="#000"/><rect x="1190" y="795" width="1" height="1" fill="#000"/><rect x="1190" y="799" width="1" height="1" fill="#000"/><rect x="1190" y="804" width="1" height="1" fill="#000"/><rect x="1190" y="808" width="6" height="1" fill="#000"/><rect x="1190" y="812" width="1" height="1" fill="#000"/><rect x="1190" y="817" width="1" height="1" fill="#000"/><rect x="1190" y="821" width="1" height="1" fill="#000"/><rect x="1190" y="825" width="1" height="1" fill="#000"/><rect x="1190" y="830" width="3" height="1" fill="#000"/><rect x="1190" y="834" width="1" height="1" fill="#000"/><rect x="1190" y="838" width="1" height="1" fill="#000"/><rect x="1190" y="842" width="1" height="1" fill="#000"/><rect x="1190" y="847" width="1" height="1" fill="#000"/><rect x="1190" y="851" width="6" height="1" fill="#000"/><rect x="1190" y="855" width="1" height="1" fill="#000"/><rect x="1190" y="860" width="1" height="1" fill="#000"/><rect x="1190" y="864" width="1" height="1" fill="#000"/><rect x="1190" y="868" width="1" height="1" fill="#000"/><rect x="1190" y="872" width="3" height="1" fill="#000"/><rect x="1190" y="877" width="1" height="1" fill="#000"/><rect x="1190" y="881" width="1" height="1" fill="#000"/><rect x="1190" y="885" width="1" height="1" fill="#000"/><rect x="1190" y="890" width="1" height="1" fill="#000"/><rect x="1190" y="894" width="6" height="1" fill="#000"/><rect x="1190" y="898" width="1" height="1" fill="#000"/><rect x="1190" y="903" width="1" height="1" fill="#000"/></g><g font-weight="bold" font-size="12.6" fill="#000"><text x="1197" y="150.3" font-size="13" textLength="45.800" lengthAdjust="spacingAndGlyphs">5000.00</text><text x="1197" y="206.8" font-size="13" textLength="45.800" lengthAdjust="spacingAndGlyphs">4900.00</text><text x="1197" y="263.3" font-size="13" textLength="45.800" lengthAdjust="spacingAndGlyphs">4800.00</text><text x="1197" y="319.8" font-size="13" textLength="45.800" lengthAdjust="spacingAndGlyphs">4700.00</text><text x="1197" y="376.3" font-size="13" textLength="45.800" lengthAdjust="spacingAndGlyphs">4600.00</text><text x="1197" y="432.8" font-size="13" textLength="45.800" lengthAdjust="spacingAndGlyphs">4500.00</text><text x="1197" y="489.3" font-size="13" textLength="45.800" lengthAdjust="spacingAndGlyphs">4400.00</text><text x="1197" y="545.8" font-size="13" textLength="45.800" lengthAdjust="spacingAndGlyphs">4300.00</text><text x="1197" y="602.3" font-size="13" textLength="45.800" lengthAdjust="spacingAndGlyphs">4200.00</text><text x="1197" y="658.8" font-size="13" textLength="45.800" lengthAdjust="spacingAndGlyphs">4100.00</text><text x="1197" y="715.3" font-size="13" textLength="45.800" lengthAdjust="spacingAndGlyphs">4000.00</text><text x="1197" y="769">200</text><text x="1197" y="812">100</text><text x="1197" y="855">0</text><text x="1197" y="898">-100</text><text x="79" y="768" font-size="13">Osc 5,35</text><text x="780" y="783" font-size="13">Osc SELL Signal</text></g></svg>
<div class="abs" style="left:78px;top:922px;width:1110px;height:16px;background:#d4d0c8;border-bottom:1px solid #404040"></div>
<div class="btn" style="left:79px;top:922px;width:16px;height:15px"><svg width="14" height="13" viewBox="0 0 14 14"><path d="M9 3.500v7l-4-3.500z" fill="#000"/></svg></div>
<div class="btn" style="left:95px;top:922px;width:16px;height:15px"><svg width="14" height="13" viewBox="0 0 14 14"><path d="M6 3.500v7l4-3.500z" fill="#000"/></svg></div>
<svg class="abs" style="left:0;top:920px" width="1280" height="20" viewBox="0 920 1280 20" font-family="Liberation Sans, sans-serif" font-size="11.500"><path d="M166 921.500L172 936.500H208L214 921.500" fill="#d4d0c8" stroke="#000" stroke-width="1"/><text x="176.3" y="933" textLength="30.7" lengthAdjust="spacingAndGlyphs">CCI 20</text><path d="M208.5 921.500L214.5 936.500H293L299 921.500" fill="#d4d0c8" stroke="#000" stroke-width="1"/><text x="217" y="933" textLength="75" lengthAdjust="spacingAndGlyphs">MACD 19, 39, 9</text><path d="M293.5 921.500L299.5 936.500H377L383 921.500" fill="#d4d0c8" stroke="#000" stroke-width="1"/><text x="302" y="933" textLength="73.5" lengthAdjust="spacingAndGlyphs">Money Flow 11</text><path d="M377.5 921.500L383.5 936.500H443L449 921.500" fill="#d4d0c8" stroke="#000" stroke-width="1"/><text x="386" y="933" textLength="54" lengthAdjust="spacingAndGlyphs">RSI 14, 7, 3</text><path d="M444 921.500L450 936.500H502L508 921.500" fill="#d4d0c8" stroke="#000" stroke-width="1"/><text x="451.5" y="933" textLength="47.5" lengthAdjust="spacingAndGlyphs">RSI 2, 7, 3</text><path d="M502.5 921.500L508.5 936.500H606.5L612.5 921.500" fill="#d4d0c8" stroke="#000" stroke-width="1"/><text x="510" y="933" textLength="95" lengthAdjust="spacingAndGlyphs">On Balance Volume</text><path d="M112.5 921.500L119.0 937.500H168.5L175 921.500" fill="#fff" stroke="#000" stroke-width="1"/><rect x="113.5" y="921" width="60.5" height="1" fill="#fff"/><text x="121.3" y="933" textLength="45" lengthAdjust="spacingAndGlyphs">Osc 5,35</text></svg>
<div class="abs" style="left:76px;top:943px;width:1112px;height:20px;background:#d4d0c8;border:1px solid;border-color:#808080 #000 #000 #808080;box-shadow:inset 1px 1px 0 #000,inset 0 -1px 0 #000"></div>
<div class="abs b" style="left:87px;top:945px;height:16px;border-left:1px solid #000;padding-left:1px;font-size:12.6px;line-height:17px">Oct</div>
<div class="abs b" style="left:241px;top:945px;height:16px;border-left:1px solid #000;padding-left:1px;font-size:12.6px;line-height:17px">Nov</div>
<div class="abs b" style="left:388px;top:945px;height:16px;border-left:1px solid #000;padding-left:1px;font-size:12.6px;line-height:17px">Dec</div>
<div class="abs b" style="left:527px;top:945px;height:16px;border-left:1px solid #000;padding-left:1px;font-size:12.6px;line-height:17px">2024</div>
<div class="abs b" style="left:675px;top:945px;height:16px;border-left:1px solid #000;padding-left:1px;font-size:12.6px;line-height:17px">Feb</div>
<div class="abs b" style="left:998px;top:945px;width:55px;height:16px;background:#ffffe1;border:1px solid #000;font-size:12.6px;line-height:15px;text-align:center">04/12/24</div>
<div class="abs b" style="left:1188px;top:944px;width:61px;height:19px;background:#ffffe1;border-top:1px solid #808080;border-left:1px solid #808080;border-bottom:1px solid #fff;color:#00f;font-size:12.6px;line-height:18px;text-align:center">#3037</div>
<div class="abs" style="left:0;top:964px;width:1280px;height:19px;background:#d4d0c8;border-top:1px solid #fff;font-size:11.2px;line-height:20px"><span class="abs" style="left:2px;top:1px">For Help, press F1</span></div>
<div class="abs" style="left:953px;top:967px;width:330px;height:17px;border-top:1px solid #808080;border-left:1px solid #808080;font-size:11.4px;line-height:16px;padding-left:3px">Page: 14 - SP 500 for blog</div>
<div class="seph" style="left:1251px;top:74px;width:29px"></div><div class="seph" style="left:1251px;top:80px;width:29px"></div>
<div class="btn dn" style="left:1254px;top:88px;width:23px;height:22px"><svg class="abs" style="left:0px;top:0px" width="21" height="20" viewBox="0 0 21 20" ><path d="M4.500 3.500l13.500 13.500M18 3.500l-13.500 13.500" stroke="#000" stroke-width="1.800"/></svg></div>
<div class="btn " style="left:1254px;top:110px;width:23px;height:22px"><svg class="abs" style="left:0px;top:0px" width="21" height="20" viewBox="0 0 21 20" ><path d="M4 3l3-1.500 11 11-2.500 3z" fill="#ffff00" stroke="#000" stroke-width=".9"/><path d="M4 3l3-1.500 1.500 1.500-3 2.500z" fill="#000"/><path d="M15.500 15.500l2.500-3 1.500 3.500-1.500 1z" fill="#c00000" stroke="#600" stroke-width=".5"/><path d="M6 4.500l11 10.500" stroke="#808000" stroke-width=".7"/></svg></div>
<div class="btn " style="left:1254px;top:132px;width:23px;height:22px"><svg class="abs" style="left:0px;top:0px" width="21" height="20" viewBox="0 0 21 20" ><path d="M3 12l16-8" stroke="#00f" stroke-width="1.100"/><path d="M3 15l16-8" stroke="#000" stroke-width="1"/><path d="M3 18l16-8" stroke="#f00" stroke-width="1.100"/></svg></div>
<div class="btn " style="left:1254px;top:154px;width:23px;height:22px"><svg class="abs" style="left:0px;top:0px" width="21" height="20" viewBox="0 0 21 20" ><text x="10.500" y="9" text-anchor="middle" font-size="8.5" font-family="Liberation Sans, sans-serif">FIB</text><text x="10.500" y="17" text-anchor="middle" font-size="8.5" font-family="Liberation Sans, sans-serif">RET</text></svg></div>
<div class="btn " style="left:1254px;top:176px;width:23px;height:22px"><svg class="abs" style="left:0px;top:0px" width="21" height="20" viewBox="0 0 21 20" ><text x="10.500" y="9" text-anchor="middle" font-size="8.5" font-family="Liberation Sans, sans-serif">FIB</text><text x="10.500" y="17" text-anchor="middle" font-size="8.5" font-family="Liberation Sans, sans-serif">EXT</text></svg></div>
<div class="btn " style="left:1254px;top:198px;width:23px;height:22px"><svg class="abs" style="left:0px;top:0px" width="21" height="20" viewBox="0 0 21 20" ><text x="10.500" y="9" text-anchor="middle" font-size="8.2" font-family="Liberation Sans, sans-serif">FIB</text><text x="10.500" y="17" text-anchor="middle" font-size="8.2" font-family="Liberation Sans, sans-serif">TIME</text></svg></div>
<div class="btn " style="left:1254px;top:220px;width:23px;height:22px"><svg class="abs" style="left:0px;top:0px" width="21" height="20" viewBox="0 0 21 20" ><path d="M3.500 12a7 7 0 1 1 14 0" fill="none" stroke="#f00" stroke-width="1.200"/><path d="M7 12a3.500 3.500 0 1 1 7 0" fill="none" stroke="#00f" stroke-width="1.200"/><text x="10.500" y="18" text-anchor="middle" font-size="8" font-weight="bold" font-family="Liberation Sans, sans-serif">FIB</text></svg></div>
<div class="btn " style="left:1254px;top:242px;width:23px;height:22px"><svg class="abs" style="left:0px;top:0px" width="21" height="20" viewBox="0 0 21 20" ><path d="M3 10l12-8" stroke="#008000"/><path d="M3 10l16-6" stroke="#00f"/><path d="M3 10l16-2" stroke="#f00"/><path d="M3 10h17" stroke="#000"/><path d="M3 10l16 3" stroke="#f00"/><path d="M3 10l16 7" stroke="#00f"/><path d="M2 10l4-2.500v5z" fill="#000"/></svg></div>
<div class="btn " style="left:1254px;top:264px;width:23px;height:22px"><svg class="abs" style="left:0px;top:0px" width="21" height="20" viewBox="0 0 21 20" ><rect x="4.500" y="3.500" width="12" height="12" fill="#c0c0c0" stroke="#000" stroke-width="1.300"/><path d="M7.500 4v11M10.500 4v11M13.500 4v11M5 6.500h11M5 9.500h11M5 12.500h11" stroke="#606060" stroke-width=".8"/></svg></div>
<div class="btn " style="left:1254px;top:286px;width:23px;height:22px"><svg class="abs" style="left:0px;top:0px" width="21" height="20" viewBox="0 0 21 20" ><ellipse cx="10.500" cy="7" rx="7.500" ry="4.500" fill="#00ffff" stroke="#f00" stroke-width="1.200"/><text x="10.500" y="18" text-anchor="middle" font-size="7" font-weight="bold" font-family="Liberation Sans, sans-serif">ELIPS</text></svg></div>
<div class="btn " style="left:1254px;top:308px;width:23px;height:22px"><svg class="abs" style="left:0px;top:0px" width="21" height="20" viewBox="0 0 21 20" ><path d="M3 12l9-9M6 15l9-9M9 18l0 0" stroke="#00f"/><path d="M5 8l11 10" stroke="#000080"/><path d="M8 9l4-4M10 11l4-4" stroke="#008000"/><path d="M9 10l4-4" stroke="#f00"/></svg></div>
<div class="btn " style="left:1254px;top:330px;width:23px;height:22px"><svg class="abs" style="left:0px;top:0px" width="21" height="20" viewBox="0 0 21 20" ><text x="10.500" y="15" text-anchor="middle" font-size="12.500" font-weight="bold" font-family="Liberation Sans, sans-serif">PTI</text></svg></div>
<div class="btn " style="left:1254px;top:352px;width:23px;height:22px"><svg class="abs" style="left:0px;top:0px" width="21" height="20" viewBox="0 0 21 20" ><rect x="4.500" y="3.500" width="12" height="12" fill="#fff" stroke="#00f" stroke-width="1.300"/><path d="M8.500 4v11M12.500 4v11M5 7.500h11M5 11.500h11" stroke="#00f" stroke-width="1.200"/><path d="M3 3v13" stroke="#808080"/></svg></div>
<div class="btn " style="left:1254px;top:374px;width:23px;height:22px"><svg class="abs" style="left:0px;top:0px" width="21" height="20" viewBox="0 0 21 20" ><rect x="3" y="3" width="15" height="3" fill="#ff00ff"/><rect x="3" y="6" width="15" height="3" fill="#00ffff"/><text x="10.500" y="18" text-anchor="middle" font-size="8.500" font-family="Liberation Sans, sans-serif">MOB</text></svg></div>
<div class="btn " style="left:1254px;top:396px;width:23px;height:22px"><svg class="abs" style="left:0px;top:0px" width="21" height="20" viewBox="0 0 21 20" ><circle cx="12" cy="8" r="5.500" fill="#fff" stroke="#000" stroke-width=".9"/><text x="12" y="12" text-anchor="middle" font-size="10" font-weight="bold" font-family="Liberation Sans, sans-serif" fill="#008000">1</text><path d="M7.500 12.500l-4.500 4.500" stroke="#000" stroke-width="1.200" stroke-dasharray="1.500 1"/></svg></div>
<div class="btn " style="left:1254px;top:418px;width:23px;height:22px"><svg class="abs" style="left:0px;top:0px" width="21" height="20" viewBox="0 0 21 20" ><text x="10.500" y="16.500" text-anchor="middle" font-size="17" font-weight="bold" font-family="Liberation Serif, serif">A</text></svg></div>
<div class="btn " style="left:1254px;top:440px;width:23px;height:22px"><svg class="abs" style="left:0px;top:0px" width="21" height="20" viewBox="0 0 21 20" ><circle cx="9" cy="7.500" r="4.800" fill="#fff" stroke="#000" stroke-width="1.100"/><path d="M6.500 7.500h5M9 5v5" stroke="#000"/><path d="M12.500 11l5.500 5.500" stroke="#000" stroke-width="2"/></svg></div>
<div class="btn " style="left:1254px;top:467px;width:23px;height:22px"><svg class="abs" style="left:0px;top:0px" width="21" height="20" viewBox="0 0 21 20" ><path d="M4 6l4-3.500 10 10-4 4z" fill="#ffff00" stroke="#808000" stroke-width=".6"/><path d="M4 6l4-3.500 5.500 5-4.500 4z" fill="#800000"/><path d="M12 15l4-4" stroke="#fff" stroke-width="1"/></svg></div>
<div class="btn " style="left:1254px;top:489px;width:23px;height:22px"><svg class="abs" style="left:0px;top:0px" width="21" height="20" viewBox="0 0 21 20" ><rect x="3.500" y="2.500" width="14" height="14" fill="#fff" stroke="#000" stroke-width=".8"/><path d="M4 3l13 13M17 3l-13 13" stroke="#000" stroke-width=".8" stroke-dasharray="2 1.500"/><path d="M5 6v-2h2M14 4h2v2M16 13v2h-2M7 15h-2v-2" fill="none" stroke="#000"/></svg></div>
<div class="btn " style="left:1254px;top:511px;width:23px;height:22px"><svg class="abs" style="left:0px;top:0px" width="21" height="20" viewBox="0 0 21 20" ><rect x="7.500" y="2.500" width="9" height="11" fill="#fff" stroke="#000"/><rect x="3.500" y="5.500" width="9" height="11" fill="#fff" stroke="#000"/><path d="M5.500 8h5M5.500 10h5M5.500 12h5M5.500 14h5" stroke="#000"/><path d="M13 5h2.500M13 7h2.500M13 9h2.500M13 11h2.500" stroke="#000"/></svg></div>
<div class="btn dn" style="left:1254px;top:537px;width:23px;height:22px"><svg class="abs" style="left:0px;top:0px" width="21" height="20" viewBox="0 0 21 20" ><path d="M4.500 3v8a6 6 0 0 0 12 0v-8h-3.500v8a2.500 2.500 0 0 1 -5 0v-8z" fill="#f00000"/><rect x="4.500" y="2" width="3.500" height="2.500" fill="#000"/><rect x="13" y="2" width="3.500" height="2.500" fill="#000"/></svg></div>
<div class="seph" style="left:1251px;top:566px;width:29px"></div>
<div class="abs" style="left:1224px;top:732px;width:24px;height:16px;background:#c8c4bc;border-top:1px solid #000;border-left:1px solid #000"><svg class="abs" style="left:0px;top:0px" width="23" height="14" viewBox="0 0 23 14" ><path d="M3 11l3-7 3 7zM14 11l3-7 3 7z" fill="#ffff80" stroke="#000" stroke-width=".8"/><path d="M6 4c2-2 9-2 11 0M11.500 3v9" fill="none" stroke="#000" stroke-width=".8"/><rect x="10.500" y="5" width="2" height="7" fill="#ffff00" stroke="#000" stroke-width=".5"/></svg></div></body></html>
